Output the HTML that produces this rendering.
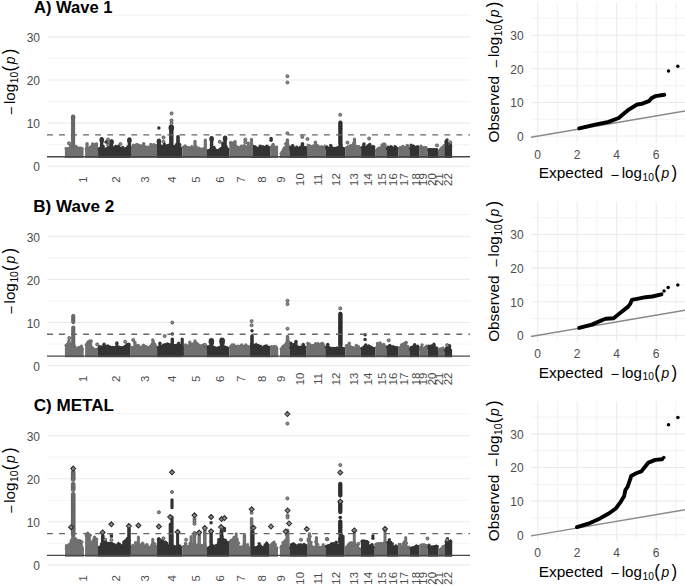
<!DOCTYPE html><html><head><meta charset="utf-8"><style>html,body{margin:0;padding:0;background:#fff;overflow:hidden}svg{display:block}text{font-family:"Liberation Sans",sans-serif}</style></head><body>
<svg width="685" height="586" viewBox="0 0 685 586">
<rect width="685" height="586" fill="#fff"/>

<line x1="47.3" x2="470.0" y1="166.2" y2="166.2" stroke="#ebebeb" stroke-width="1.1"/>
<line x1="47.3" x2="470.0" y1="144.7" y2="144.7" stroke="#ebebeb" stroke-width="0.6"/>
<line x1="47.3" x2="470.0" y1="123.1" y2="123.1" stroke="#ebebeb" stroke-width="1.1"/>
<line x1="47.3" x2="470.0" y1="101.6" y2="101.6" stroke="#ebebeb" stroke-width="0.6"/>
<line x1="47.3" x2="470.0" y1="80" y2="80" stroke="#ebebeb" stroke-width="1.1"/>
<line x1="47.3" x2="470.0" y1="58.4" y2="58.4" stroke="#ebebeb" stroke-width="0.6"/>
<line x1="47.3" x2="470.0" y1="36.9" y2="36.9" stroke="#ebebeb" stroke-width="1.1"/>
<line x1="47.3" x2="470.0" y1="15.1" y2="15.1" stroke="#ebebeb" stroke-width="0.6"/>
<line x1="537.7" x2="537.7" y1="2.5" y2="142.2" stroke="#ebebeb" stroke-width="1.1"/>
<line x1="557.45" x2="557.45" y1="2.5" y2="142.2" stroke="#ebebeb" stroke-width="0.6"/>
<line x1="577.2" x2="577.2" y1="2.5" y2="142.2" stroke="#ebebeb" stroke-width="1.1"/>
<line x1="596.95" x2="596.95" y1="2.5" y2="142.2" stroke="#ebebeb" stroke-width="0.6"/>
<line x1="616.7" x2="616.7" y1="2.5" y2="142.2" stroke="#ebebeb" stroke-width="1.1"/>
<line x1="636.45" x2="636.45" y1="2.5" y2="142.2" stroke="#ebebeb" stroke-width="0.6"/>
<line x1="656.2" x2="656.2" y1="2.5" y2="142.2" stroke="#ebebeb" stroke-width="1.1"/>
<line x1="675.95" x2="675.95" y1="2.5" y2="142.2" stroke="#ebebeb" stroke-width="0.6"/>
<line x1="531.0" x2="685.0" y1="136.05" y2="136.05" stroke="#ebebeb" stroke-width="1.1"/>
<line x1="531.0" x2="685.0" y1="119.24" y2="119.24" stroke="#ebebeb" stroke-width="0.6"/>
<line x1="531.0" x2="685.0" y1="102.43" y2="102.43" stroke="#ebebeb" stroke-width="1.1"/>
<line x1="531.0" x2="685.0" y1="85.62" y2="85.62" stroke="#ebebeb" stroke-width="0.6"/>
<line x1="531.0" x2="685.0" y1="68.81" y2="68.81" stroke="#ebebeb" stroke-width="1.1"/>
<line x1="531.0" x2="685.0" y1="52" y2="52" stroke="#ebebeb" stroke-width="0.6"/>
<line x1="531.0" x2="685.0" y1="35.19" y2="35.19" stroke="#ebebeb" stroke-width="1.1"/>
<line x1="531.0" x2="685.0" y1="18.38" y2="18.38" stroke="#ebebeb" stroke-width="0.6"/>
<path d="M64.9,158 L64.9,148.6 L66,147.1 L68,147.6 L70,146.6 L72,147.1 L75,146.1 L77,147.1 L79,146.6 L81,147.1 L83.6,147.6 L83.6,158 Z" fill="#707070"/>
<g fill="#707070"><circle cx="66.1" cy="148.58" r="1.65"/><circle cx="67.55" cy="149.41" r="1.65"/><circle cx="68.92" cy="148.65" r="1.65"/><circle cx="70.39" cy="147.88" r="1.65"/><circle cx="71.8" cy="148.68" r="1.65"/><circle cx="73.43" cy="147.72" r="1.65"/><circle cx="74.68" cy="147.3" r="1.65"/><circle cx="76.32" cy="148.46" r="1.65"/><circle cx="77.36" cy="148.99" r="1.65"/><circle cx="79.13" cy="148.29" r="1.65"/><circle cx="80.62" cy="148.16" r="1.65"/><circle cx="81.63" cy="148.75" r="1.65"/><circle cx="70.46" cy="145.87" r="1.65"/><circle cx="73.25" cy="146.66" r="1.65"/><circle cx="76" cy="146.52" r="1.65"/></g>
<path d="M85.1,158 L85.1,147.6 L87,146.6 L89,147.1 L91,145.6 L93,144.1 L95,143.1 L96.5,142.6 L98.1,144.6 L98.1,158 Z" fill="#707070"/>
<g fill="#707070"><circle cx="86.3" cy="148.96" r="1.65"/><circle cx="87.97" cy="148.55" r="1.65"/><circle cx="89.22" cy="148.16" r="1.65"/><circle cx="90.46" cy="147.08" r="1.65"/><circle cx="92.07" cy="146.2" r="1.65"/><circle cx="93.75" cy="145.11" r="1.65"/><circle cx="95.51" cy="144.78" r="1.65"/><circle cx="96.51" cy="143.83" r="1.65"/><circle cx="87.04" cy="143.68" r="1.65"/><circle cx="92.61" cy="143.89" r="1.65"/><rect x="85.54" y="143.68" width="3" height="4.43"/></g>
<path d="M98.1,158 L98.1,147.6 L100,147.1 L102,146.6 L105,148.1 L108,147.1 L112,146.6 L116,148.1 L120,148.6 L124,148.1 L127,147.1 L130.6,147.6 L130.6,158 Z" fill="#333333"/>
<g fill="#333333"><circle cx="99.3" cy="149.25" r="1.65"/><circle cx="100.91" cy="147.99" r="1.65"/><circle cx="102.1" cy="147.75" r="1.65"/><circle cx="103.15" cy="148.97" r="1.65"/><circle cx="104.29" cy="149.31" r="1.65"/><circle cx="105.65" cy="149.07" r="1.65"/><circle cx="107.24" cy="148.49" r="1.65"/><circle cx="108.75" cy="148.12" r="1.65"/><circle cx="110.09" cy="148.05" r="1.65"/><circle cx="111.3" cy="148.66" r="1.65"/><circle cx="112.95" cy="148.26" r="1.65"/><circle cx="114.66" cy="148.81" r="1.65"/><circle cx="115.97" cy="149.94" r="1.65"/><circle cx="117.48" cy="149.39" r="1.65"/><circle cx="119.28" cy="149.72" r="1.65"/><circle cx="120.48" cy="150.31" r="1.65"/><circle cx="121.75" cy="149.68" r="1.65"/><circle cx="122.8" cy="149.34" r="1.65"/><circle cx="124.27" cy="149.25" r="1.65"/><circle cx="125.75" cy="148.89" r="1.65"/><circle cx="127.11" cy="149.07" r="1.65"/><circle cx="128.5" cy="148.88" r="1.65"/><circle cx="103.24" cy="146.52" r="1.65"/><circle cx="108.71" cy="145.19" r="1.65"/><circle cx="110.7" cy="144.76" r="1.65"/><circle cx="114.41" cy="147.58" r="1.65"/><circle cx="118.56" cy="146.13" r="1.65"/><circle cx="120.65" cy="148.3" r="1.65"/><circle cx="122.79" cy="147.51" r="1.65"/><circle cx="127.72" cy="146.93" r="1.65"/><rect x="107.21" y="145.19" width="3" height="3.32"/><rect x="109.2" y="144.76" width="3" height="3.5"/><rect x="117.06" y="146.13" width="3" height="3.79"/></g>
<path d="M130.6,158 L130.6,146.6 L133,145.6 L135,144.6 L137,145.1 L139,144.1 L141,145.1 L143,144.6 L145,145.6 L147,146.1 L150,145.6 L152,145.1 L154,144.6 L156,143.6 L157.1,144.6 L157.1,158 Z" fill="#707070"/>
<g fill="#707070"><circle cx="131.8" cy="147.33" r="1.65"/><circle cx="133.25" cy="147.33" r="1.65"/><circle cx="134.74" cy="146.01" r="1.65"/><circle cx="136.47" cy="146.17" r="1.65"/><circle cx="137.49" cy="146.13" r="1.65"/><circle cx="138.84" cy="145.24" r="1.65"/><circle cx="139.98" cy="145.96" r="1.65"/><circle cx="141.44" cy="146.12" r="1.65"/><circle cx="142.73" cy="146.56" r="1.65"/><circle cx="144.52" cy="147.01" r="1.65"/><circle cx="146.07" cy="147.45" r="1.65"/><circle cx="147.18" cy="147.1" r="1.65"/><circle cx="148.2" cy="147.81" r="1.65"/><circle cx="149.76" cy="147.6" r="1.65"/><circle cx="150.77" cy="147.04" r="1.65"/><circle cx="152.16" cy="146.79" r="1.65"/><circle cx="153.41" cy="146.75" r="1.65"/><circle cx="154.47" cy="145.91" r="1.65"/><circle cx="133.4" cy="145.06" r="1.65"/><circle cx="136.66" cy="144.44" r="1.65"/><circle cx="143.66" cy="143.62" r="1.65"/><circle cx="150.81" cy="144.41" r="1.65"/><circle cx="153.75" cy="144.68" r="1.65"/><rect x="142.16" y="143.62" width="3" height="2.81"/></g>
<path d="M157.1,158 L157.1,144.6 L160,144.1 L163,145.6 L166,145.1 L169,144.1 L172,144.6 L175,145.6 L178,145.6 L180,146.6 L182.3,147.1 L182.3,158 Z" fill="#333333"/>
<g fill="#333333"><circle cx="158.3" cy="145.98" r="1.65"/><circle cx="159.79" cy="145.22" r="1.65"/><circle cx="161.3" cy="146.74" r="1.65"/><circle cx="163" cy="147.33" r="1.65"/><circle cx="164.31" cy="147.12" r="1.65"/><circle cx="165.78" cy="146.58" r="1.65"/><circle cx="167.45" cy="145.7" r="1.65"/><circle cx="169.05" cy="145.14" r="1.65"/><circle cx="170.53" cy="145.84" r="1.65"/><circle cx="171.71" cy="146.25" r="1.65"/><circle cx="173.11" cy="146.59" r="1.65"/><circle cx="174.85" cy="146.81" r="1.65"/><circle cx="175.86" cy="146.9" r="1.65"/><circle cx="177.4" cy="146.8" r="1.65"/><circle cx="178.54" cy="147.77" r="1.65"/><circle cx="180.06" cy="148.06" r="1.65"/><circle cx="158.75" cy="144.22" r="1.65"/><circle cx="164.27" cy="143.93" r="1.65"/><circle cx="176.36" cy="144.71" r="1.65"/><circle cx="179.63" cy="144.42" r="1.65"/><rect x="162.77" y="143.93" width="3" height="2.96"/><rect x="178.13" y="144.42" width="3" height="3.5"/></g>
<path d="M182.3,158 L182.3,147.1 L183.4,146.1 L186,146.1 L188,146.1 L190.4,146.6 L193,147.1 L196,147.1 L199,148.1 L202,148.1 L204,147.1 L206.8,148.6 L206.8,158 Z" fill="#707070"/>
<g fill="#707070"><circle cx="183.5" cy="147.27" r="1.65"/><circle cx="184.86" cy="147.38" r="1.65"/><circle cx="186.03" cy="147.51" r="1.65"/><circle cx="187.53" cy="147.59" r="1.65"/><circle cx="188.78" cy="148.1" r="1.65"/><circle cx="190.57" cy="148.09" r="1.65"/><circle cx="191.63" cy="147.87" r="1.65"/><circle cx="193.33" cy="148.14" r="1.65"/><circle cx="194.9" cy="148.67" r="1.65"/><circle cx="196.14" cy="148.94" r="1.65"/><circle cx="197.16" cy="148.62" r="1.65"/><circle cx="198.52" cy="148.97" r="1.65"/><circle cx="200.19" cy="149.34" r="1.65"/><circle cx="201.3" cy="149.15" r="1.65"/><circle cx="202.8" cy="149.15" r="1.65"/><circle cx="204.31" cy="148.92" r="1.65"/><circle cx="185.22" cy="145.95" r="1.65"/><circle cx="191.84" cy="146.63" r="1.65"/><circle cx="196.15" cy="146.96" r="1.65"/><circle cx="198.96" cy="148.13" r="1.65"/></g>
<path d="M206.8,158 L206.8,149.6 L209,149.1 L212,147.6 L215,148.1 L218,149.6 L220,147.6 L223,146.6 L226,147.1 L229.3,148.6 L229.3,158 Z" fill="#333333"/>
<g fill="#333333"><circle cx="208" cy="151.23" r="1.65"/><circle cx="209.07" cy="151" r="1.65"/><circle cx="210.65" cy="149.41" r="1.65"/><circle cx="212.01" cy="149.23" r="1.65"/><circle cx="213.74" cy="149.27" r="1.65"/><circle cx="215.19" cy="150.08" r="1.65"/><circle cx="216.83" cy="150.96" r="1.65"/><circle cx="218.2" cy="151.05" r="1.65"/><circle cx="219.37" cy="149.96" r="1.65"/><circle cx="221.02" cy="148.9" r="1.65"/><circle cx="222.59" cy="147.95" r="1.65"/><circle cx="224.31" cy="148.8" r="1.65"/><circle cx="226.1" cy="148.68" r="1.65"/><circle cx="227.73" cy="149.21" r="1.65"/><circle cx="214.09" cy="147.49" r="1.65"/><circle cx="226.17" cy="146.63" r="1.65"/></g>
<path d="M229.3,158 L229.3,143.6 L230.5,141.6 L231.5,141.3 L234,143.1 L236,145.1 L238.3,146.8 L240.5,145.8 L243,146.4 L245.3,145.1 L247,145.8 L248.5,145.1 L250.8,146.1 L250.8,158 Z" fill="#707070"/>
<g fill="#707070"><circle cx="230.5" cy="142.75" r="1.65"/><circle cx="231.91" cy="143.32" r="1.65"/><circle cx="233.59" cy="144.49" r="1.65"/><circle cx="235.34" cy="145.93" r="1.65"/><circle cx="237.1" cy="147" r="1.65"/><circle cx="238.28" cy="148.31" r="1.65"/><circle cx="239.51" cy="147.98" r="1.65"/><circle cx="241.02" cy="147.45" r="1.65"/><circle cx="242.7" cy="147.89" r="1.65"/><circle cx="243.95" cy="147.25" r="1.65"/><circle cx="245.62" cy="147.13" r="1.65"/><circle cx="246.79" cy="147.56" r="1.65"/><circle cx="248.56" cy="146.65" r="1.65"/><circle cx="233.46" cy="142.78" r="1.65"/><circle cx="235.03" cy="141.64" r="1.65"/><circle cx="241.32" cy="146.17" r="1.65"/><circle cx="244.05" cy="145.63" r="1.65"/><circle cx="248.25" cy="143.07" r="1.65"/><rect x="233.53" y="141.64" width="3" height="3.99"/><rect x="246.75" y="143.07" width="3" height="3.64"/></g>
<path d="M250.8,158 L250.8,145.2 L253,145.2 L256,145.4 L257.5,149.1 L259,146.1 L261,146.1 L262.9,145.2 L265,146.4 L268,145.8 L270.1,146.6 L270.1,158 Z" fill="#333333"/>
<g fill="#333333"><circle cx="252" cy="146.47" r="1.65"/><circle cx="253.38" cy="146.35" r="1.65"/><circle cx="254.73" cy="147.13" r="1.65"/><circle cx="256.45" cy="147.98" r="1.65"/><circle cx="257.7" cy="149.89" r="1.65"/><circle cx="259.19" cy="148.03" r="1.65"/><circle cx="260.3" cy="147.88" r="1.65"/><circle cx="261.32" cy="147.14" r="1.65"/><circle cx="262.5" cy="147.08" r="1.65"/><circle cx="263.76" cy="147.04" r="1.65"/><circle cx="265.25" cy="147.45" r="1.65"/><circle cx="266.84" cy="147.16" r="1.65"/><circle cx="268.24" cy="147.14" r="1.65"/><circle cx="260.13" cy="146.1" r="1.65"/><circle cx="266.86" cy="146.08" r="1.65"/></g>
<path d="M270.1,158 L270.1,146.1 L272.5,145.4 L274.5,146.1 L276.5,145.4 L278.1,146.1 L278.1,158 Z" fill="#707070"/>
<g fill="#707070"><circle cx="271.3" cy="146.98" r="1.65"/><circle cx="272.89" cy="147.35" r="1.65"/><circle cx="274.61" cy="147.38" r="1.65"/><circle cx="275.87" cy="147.54" r="1.65"/><circle cx="273.1" cy="144.42" r="1.65"/><rect x="271.6" y="144.42" width="3" height="2.69"/></g>
<path d="M279.9,158 L279.9,155.6 L281,152.5 L283,148.3 L285,145.9 L286.5,141.7 L287.5,140.6 L289,143.5 L289.4,144.6 L289.4,158 Z" fill="#707070"/>
<g fill="#707070"><circle cx="281.1" cy="153.55" r="1.65"/><circle cx="282.18" cy="151.86" r="1.65"/><circle cx="283.51" cy="149.47" r="1.65"/><circle cx="284.62" cy="147.76" r="1.65"/><circle cx="286.16" cy="143.66" r="1.65"/><circle cx="287.32" cy="142.48" r="1.65"/><circle cx="285.6" cy="143.8" r="1.65"/></g>
<path d="M289.4,158 L289.4,147.6 L291,147.1 L292.6,144.7 L294,147.1 L297,147.6 L300,146.6 L302,144.6 L304,146.1 L307,146.6 L307,158 Z" fill="#333333"/>
<g fill="#333333"><circle cx="290.6" cy="148.91" r="1.65"/><circle cx="291.75" cy="147.04" r="1.65"/><circle cx="292.84" cy="146.14" r="1.65"/><circle cx="294.28" cy="148.66" r="1.65"/><circle cx="295.73" cy="148.54" r="1.65"/><circle cx="296.88" cy="148.78" r="1.65"/><circle cx="298.55" cy="149.07" r="1.65"/><circle cx="300.29" cy="147.4" r="1.65"/><circle cx="301.34" cy="147.21" r="1.65"/><circle cx="302.71" cy="146.9" r="1.65"/><circle cx="303.97" cy="147.55" r="1.65"/><circle cx="305.39" cy="147.76" r="1.65"/><circle cx="290.43" cy="147.07" r="1.65"/><circle cx="296.67" cy="147.2" r="1.65"/><circle cx="302.64" cy="143.84" r="1.65"/><rect x="301.14" y="143.84" width="3" height="2.74"/></g>
<path d="M307,158 L307,143.6 L309,144.1 L311,145.1 L313,146.1 L315,144.6 L316.6,142.8 L318,144.6 L320,146.1 L322,146.6 L324,145.6 L325,143.6 L325.6,145.6 L325.6,158 Z" fill="#707070"/>
<g fill="#707070"><circle cx="308.2" cy="145.6" r="1.65"/><circle cx="309.89" cy="146.17" r="1.65"/><circle cx="311.21" cy="146.81" r="1.65"/><circle cx="312.62" cy="147.89" r="1.65"/><circle cx="314.26" cy="146.41" r="1.65"/><circle cx="315.99" cy="145.23" r="1.65"/><circle cx="317.61" cy="145.91" r="1.65"/><circle cx="318.94" cy="147.2" r="1.65"/><circle cx="320.64" cy="147.95" r="1.65"/><circle cx="322.25" cy="148.24" r="1.65"/><circle cx="323.58" cy="147.53" r="1.65"/><circle cx="313.31" cy="145.89" r="1.65"/><circle cx="315.39" cy="142.27" r="1.65"/><circle cx="321.7" cy="146.68" r="1.65"/><rect x="313.89" y="142.27" width="3" height="3.39"/></g>
<path d="M325.6,158 L325.6,146.6 L328,147.1 L330.7,146.1 L333,147.1 L336,147.1 L338,146.6 L340,147.1 L342,146.6 L345.2,147.6 L345.2,158 Z" fill="#333333"/>
<g fill="#333333"><circle cx="326.8" cy="148.24" r="1.65"/><circle cx="328.6" cy="148.52" r="1.65"/><circle cx="330.16" cy="148.06" r="1.65"/><circle cx="331.94" cy="147.66" r="1.65"/><circle cx="333.44" cy="148.84" r="1.65"/><circle cx="334.64" cy="148.5" r="1.65"/><circle cx="335.68" cy="148.3" r="1.65"/><circle cx="336.98" cy="147.95" r="1.65"/><circle cx="338.18" cy="148.55" r="1.65"/><circle cx="339.62" cy="148.51" r="1.65"/><circle cx="341.4" cy="148.32" r="1.65"/><circle cx="343.19" cy="148.61" r="1.65"/><circle cx="326.75" cy="146.93" r="1.65"/><circle cx="339.39" cy="147" r="1.65"/><circle cx="341.04" cy="144.93" r="1.65"/><rect x="339.54" y="144.93" width="3" height="3.41"/></g>
<path d="M345.2,158 L345.2,147.6 L347,146.1 L349,145.1 L351,144.6 L353,144.6 L355,144.6 L357,145.1 L359,145.6 L361.1,147.1 L361.1,158 Z" fill="#707070"/>
<g fill="#707070"><circle cx="346.4" cy="147.97" r="1.65"/><circle cx="347.63" cy="147.44" r="1.65"/><circle cx="349.08" cy="146.36" r="1.65"/><circle cx="350.65" cy="145.98" r="1.65"/><circle cx="351.66" cy="145.85" r="1.65"/><circle cx="352.7" cy="145.76" r="1.65"/><circle cx="354.3" cy="145.99" r="1.65"/><circle cx="356.02" cy="146.6" r="1.65"/><circle cx="357.06" cy="147.1" r="1.65"/><circle cx="358.81" cy="146.63" r="1.65"/><circle cx="353.8" cy="142.83" r="1.65"/><rect x="352.3" y="142.83" width="3" height="3.27"/></g>
<path d="M361.1,158 L361.1,146.9 L362.5,145.6 L363.6,143.4 L365,146.1 L367,146.1 L368.9,143.4 L370.5,146.1 L373.3,145.1 L375.2,146.6 L375.2,158 Z" fill="#333333"/>
<g fill="#333333"><circle cx="362.3" cy="147.6" r="1.65"/><circle cx="363.78" cy="144.87" r="1.65"/><circle cx="365.28" cy="147.56" r="1.65"/><circle cx="366.45" cy="147.15" r="1.65"/><circle cx="367.87" cy="145.99" r="1.65"/><circle cx="369.22" cy="145.61" r="1.65"/><circle cx="370.59" cy="147.33" r="1.65"/><circle cx="372.05" cy="146.97" r="1.65"/><circle cx="373.67" cy="146.93" r="1.65"/><circle cx="364.01" cy="143.86" r="1.65"/><circle cx="369.83" cy="144.44" r="1.65"/></g>
<path d="M375.2,158 L375.2,150.6 L377,148.1 L378.5,146.6 L380,147.1 L382,145.1 L383.8,142.6 L385,144.6 L386.4,146.6 L386.4,158 Z" fill="#707070"/>
<g fill="#707070"><circle cx="376.4" cy="150.62" r="1.65"/><circle cx="377.85" cy="148.84" r="1.65"/><circle cx="379.36" cy="148.64" r="1.65"/><circle cx="380.51" cy="147.84" r="1.65"/><circle cx="382.29" cy="146.61" r="1.65"/><circle cx="384" cy="143.97" r="1.65"/><circle cx="385.05" cy="145.94" r="1.65"/><circle cx="382.02" cy="144.95" r="1.65"/><circle cx="384.89" cy="144.43" r="1.65"/></g>
<path d="M386.4,158 L386.4,147.7 L388.5,147.1 L390.8,145.1 L392.5,147.1 L394,147.6 L396,146.4 L398.3,147.6 L398.3,158 Z" fill="#333333"/>
<g fill="#333333"><circle cx="387.6" cy="148.84" r="1.65"/><circle cx="388.77" cy="148.21" r="1.65"/><circle cx="390.36" cy="147.32" r="1.65"/><circle cx="391.42" cy="146.95" r="1.65"/><circle cx="393.07" cy="148.91" r="1.65"/><circle cx="394.69" cy="148.4" r="1.65"/><circle cx="396.03" cy="147.67" r="1.65"/><circle cx="388.14" cy="147.14" r="1.65"/><circle cx="394.98" cy="146.64" r="1.65"/></g>
<path d="M398.3,158 L398.3,146.9 L401,146.6 L403,146.6 L405,146.1 L406.5,145.1 L408,146.1 L409.4,146.9 L409.4,158 Z" fill="#707070"/>
<g fill="#707070"><circle cx="399.5" cy="148.19" r="1.65"/><circle cx="400.8" cy="147.72" r="1.65"/><circle cx="402.5" cy="147.68" r="1.65"/><circle cx="403.56" cy="148.02" r="1.65"/><circle cx="404.95" cy="147.8" r="1.65"/><circle cx="406.19" cy="147.08" r="1.65"/><circle cx="407.25" cy="146.81" r="1.65"/><circle cx="402.78" cy="146.42" r="1.65"/><circle cx="407.38" cy="145.39" r="1.65"/></g>
<path d="M409.4,158 L409.4,148.1 L411,147.1 L413.6,144.2 L415.5,146.6 L418,145.1 L419.6,147.1 L419.6,158 Z" fill="#333333"/>
<g fill="#333333"><circle cx="410.6" cy="148.47" r="1.65"/><circle cx="412.17" cy="147.37" r="1.65"/><circle cx="413.9" cy="146.52" r="1.65"/><circle cx="415.63" cy="147.96" r="1.65"/><circle cx="417.28" cy="146.84" r="1.65"/><circle cx="411.2" cy="145.15" r="1.65"/><rect x="409.7" y="145.15" width="3" height="3.23"/></g>
<path d="M419.6,158 L419.6,146.6 L422,146.6 L425,146.1 L427.6,146.6 L427.6,158 Z" fill="#707070"/>
<g fill="#707070"><circle cx="420.8" cy="148" r="1.65"/><circle cx="422.11" cy="147.78" r="1.65"/><circle cx="423.56" cy="148.14" r="1.65"/><circle cx="424.99" cy="147.94" r="1.65"/><circle cx="420.95" cy="146.18" r="1.65"/></g>
<path d="M427.6,158 L427.6,148.6 L430,148.1 L433,148.6 L436,148.6 L438,148.6 L438,158 Z" fill="#333333"/>
<g fill="#333333"><circle cx="428.8" cy="149.87" r="1.65"/><circle cx="430.24" cy="149.71" r="1.65"/><circle cx="432.01" cy="150.09" r="1.65"/><circle cx="433.65" cy="149.66" r="1.65"/><circle cx="435.09" cy="150.39" r="1.65"/><circle cx="436.16" cy="149.68" r="1.65"/></g>
<path d="M438,158 L438,150.6 L440,148.6 L442,146.1 L443.5,144.1 L444.8,143.6 L444.8,158 Z" fill="#707070"/>
<g fill="#707070"><circle cx="439.2" cy="151.05" r="1.65"/><circle cx="440.4" cy="149.32" r="1.65"/><circle cx="442.01" cy="147.61" r="1.65"/></g>
<path d="M444.8,158 L444.8,146.6 L445.5,141.1 L446.3,139.9 L447.3,141.1 L448,146.6 L449,144.6 L451.5,144.6 L452.1,146.6 L452.1,158 Z" fill="#333333"/>
<g fill="#333333"><circle cx="446" cy="142.02" r="1.65"/><circle cx="447.39" cy="143.38" r="1.65"/><circle cx="448.97" cy="146.36" r="1.65"/><circle cx="450.7" cy="146.01" r="1.65"/><circle cx="447.13" cy="139.98" r="1.65"/></g>
<rect x="71.5" y="114.9" width="3.2" height="42.3" rx="1.6" fill="#707070"/>
<ellipse cx="73.1" cy="117.3" rx="2.2" ry="2.8" fill="#707070"/>
<ellipse cx="73.1" cy="135.5" rx="2.2" ry="2.8" fill="#707070"/>
<rect x="100" y="137.7" width="3.4" height="19.5" rx="1.7" fill="#333333"/>
<ellipse cx="101.7" cy="140" rx="2.3" ry="2.9" fill="#333333"/>
<rect x="110" y="139.5" width="3.2" height="17.7" rx="1.6" fill="#333333"/>
<ellipse cx="111.6" cy="142" rx="2.2" ry="2.8" fill="#333333"/>
<rect x="114" y="144.7" width="3.4" height="12.5" rx="1.7" fill="#333333"/>
<rect x="127.7" y="137.9" width="3.4" height="19.3" rx="1.7" fill="#333333"/>
<ellipse cx="129.4" cy="140.2" rx="2.3" ry="2.9" fill="#333333"/>
<rect x="157.2" y="139.7" width="3.4" height="17.5" rx="1.7" fill="#333333"/>
<ellipse cx="158.9" cy="141.5" rx="2.3" ry="2.9" fill="#333333"/>
<rect x="169.1" y="125.2" width="4.4" height="32" rx="2.2" fill="#333333"/>
<ellipse cx="171.3" cy="127.8" rx="2.8" ry="3.4" fill="#333333"/>
<rect x="176.2" y="135" width="3.6" height="22.2" rx="1.8" fill="#333333"/>
<rect x="193.4" y="139.7" width="3.2" height="17.5" rx="1.6" fill="#707070"/>
<rect x="203.7" y="138.5" width="3.2" height="18.7" rx="1.6" fill="#707070"/>
<rect x="209.9" y="136.8" width="3.4" height="20.4" rx="1.7" fill="#333333"/>
<ellipse cx="211.6" cy="139" rx="2.3" ry="2.9" fill="#333333"/>
<rect x="221.3" y="141.5" width="3.4" height="15.7" rx="1.7" fill="#333333"/>
<rect x="223.4" y="136.2" width="3.4" height="21" rx="1.7" fill="#333333"/>
<ellipse cx="225.1" cy="138.5" rx="2.3" ry="2.9" fill="#333333"/>
<rect x="249.9" y="137.8" width="3.2" height="19.4" rx="1.6" fill="#707070"/>
<rect x="285.7" y="138.2" width="3.4" height="19" rx="1.7" fill="#707070"/>
<rect x="300.7" y="142.2" width="3.2" height="15" rx="1.6" fill="#333333"/>
<rect x="291" y="143.9" width="3.2" height="13.3" rx="1.6" fill="#333333"/>
<rect x="338.6" y="120.9" width="3.6" height="36.3" rx="1.8" fill="#333333"/>
<rect x="444.7" y="139.3" width="3.2" height="17.9" rx="1.6" fill="#333333"/>
<rect x="448.7" y="142.2" width="3.2" height="15" rx="1.6" fill="#333333"/>
<rect x="352.9" y="137.5" width="3.2" height="19.7" rx="1.6" fill="#707070"/>
<g fill="#707070" stroke="#555" stroke-width="0.45"><circle cx="73.1" cy="117" r="1.8"/><circle cx="73.1" cy="118.9" r="1.8"/><circle cx="73.1" cy="120.8" r="1.8"/><circle cx="73.1" cy="122.7" r="1.8"/><circle cx="73.1" cy="124.6" r="1.8"/><circle cx="73.1" cy="126.5" r="1.8"/><circle cx="73.1" cy="128.4" r="1.8"/><circle cx="73.1" cy="130.3" r="1.8"/><circle cx="73.1" cy="132.2" r="1.8"/><circle cx="73.1" cy="134.1" r="1.8"/><circle cx="73.1" cy="136" r="1.8"/><circle cx="73.1" cy="137.9" r="1.8"/><circle cx="73.1" cy="139.8" r="1.8"/><circle cx="73.1" cy="141.7" r="1.8"/><circle cx="73.1" cy="143.6" r="1.8"/><circle cx="73.1" cy="145.5" r="1.8"/></g>
<g fill="#333333" stroke="#222" stroke-width="0.45"><circle cx="340.4" cy="122.5" r="1.85"/><circle cx="340.4" cy="124.4" r="1.85"/><circle cx="340.4" cy="126.3" r="1.85"/><circle cx="340.4" cy="128.2" r="1.85"/><circle cx="340.4" cy="130.1" r="1.85"/><circle cx="340.4" cy="132" r="1.85"/><circle cx="340.4" cy="133.9" r="1.85"/><circle cx="340.4" cy="135.8" r="1.85"/><circle cx="340.4" cy="137.7" r="1.85"/><circle cx="340.4" cy="139.6" r="1.85"/><circle cx="340.4" cy="141.5" r="1.85"/><circle cx="340.4" cy="143.4" r="1.85"/></g>
<circle cx="69" cy="143.3" r="1.55" fill="#8c8c8c" stroke="#444" stroke-width="0.7"/>
<circle cx="108.1" cy="139.5" r="1.55" fill="#8c8c8c" stroke="#444" stroke-width="0.7"/>
<circle cx="108.1" cy="142.3" r="1.55" fill="#8c8c8c" stroke="#444" stroke-width="0.7"/>
<circle cx="108.1" cy="145" r="1.55" fill="#8c8c8c" stroke="#444" stroke-width="0.7"/>
<circle cx="106" cy="142" r="1.7" fill="#333333"/>
<circle cx="120.4" cy="144" r="1.55" fill="#8c8c8c" stroke="#444" stroke-width="0.7"/>
<circle cx="158.9" cy="128" r="1.7" fill="#333333"/>
<circle cx="163.5" cy="137.4" r="1.55" fill="#8c8c8c" stroke="#444" stroke-width="0.7"/>
<circle cx="163.5" cy="141.5" r="1.55" fill="#8c8c8c" stroke="#444" stroke-width="0.7"/>
<circle cx="171.5" cy="120.3" r="1.55" fill="#8c8c8c" stroke="#444" stroke-width="0.7"/>
<circle cx="171.5" cy="123.1" r="1.55" fill="#8c8c8c" stroke="#444" stroke-width="0.7"/>
<circle cx="171.6" cy="113.4" r="1.55" fill="#8c8c8c" stroke="#444" stroke-width="0.7"/>
<circle cx="287.4" cy="76.2" r="1.55" fill="#8c8c8c" stroke="#444" stroke-width="0.7"/>
<circle cx="287.4" cy="82.5" r="1.55" fill="#8c8c8c" stroke="#444" stroke-width="0.7"/>
<circle cx="287.4" cy="133.3" r="1.55" fill="#8c8c8c" stroke="#444" stroke-width="0.7"/>
<circle cx="302.3" cy="136.9" r="1.55" fill="#8c8c8c" stroke="#444" stroke-width="0.7"/>
<circle cx="219.8" cy="141.8" r="1.55" fill="#8c8c8c" stroke="#444" stroke-width="0.7"/>
<circle cx="245.3" cy="139.5" r="1.55" fill="#8c8c8c" stroke="#444" stroke-width="0.7"/>
<circle cx="245.3" cy="142.3" r="1.55" fill="#8c8c8c" stroke="#444" stroke-width="0.7"/>
<circle cx="271.1" cy="138.4" r="1.7" fill="#333333"/>
<circle cx="271.1" cy="140.2" r="1.7" fill="#333333"/>
<circle cx="307.5" cy="139" r="1.55" fill="#8c8c8c" stroke="#444" stroke-width="0.7"/>
<circle cx="340.2" cy="114.7" r="1.55" fill="#8c8c8c" stroke="#444" stroke-width="0.7"/>
<circle cx="347.5" cy="142.6" r="1.55" fill="#8c8c8c" stroke="#444" stroke-width="0.7"/>
<circle cx="369.1" cy="138.5" r="1.55" fill="#8c8c8c" stroke="#444" stroke-width="0.7"/>
<circle cx="437" cy="145.4" r="1.55" fill="#8c8c8c" stroke="#444" stroke-width="0.7"/>
<circle cx="450.3" cy="142.4" r="1.55" fill="#8c8c8c" stroke="#444" stroke-width="0.7"/>
<circle cx="330.7" cy="145.5" r="1.7" fill="#333333"/>
<circle cx="73.1" cy="135" r="1.7" fill="#707070"/>
<line x1="47" x2="470.0" y1="134.9" y2="134.9" stroke="#666" stroke-width="1.3" stroke-dasharray="5.9 6.14"/>
<line x1="47" x2="470.0" y1="156.75" y2="156.75" stroke="#484848" stroke-width="1.3"/>
<line x1="531.0" y1="137.19" x2="685.0" y2="110.98" stroke="#8a8a8a" stroke-width="1.45"/>
<path d="M579.2,128.4 L595.2,124.7 L608.6,121.8 L618.7,118 L623.7,113.8 L628.8,109.6 L637.1,104.5 L642.2,103.7 L648.9,101.2 L651.4,98.3 L655.6,96.1 L664.3,94.8" fill="none" stroke="#000" stroke-width="3.9" stroke-linecap="round" stroke-linejoin="round"/>
<circle cx="668.5" cy="71" r="1.75" fill="#000"/>
<circle cx="677.8" cy="66.2" r="1.75" fill="#000"/>
<text x="33.99" y="12.6" font-size="16" font-weight="bold" fill="#000" textLength="78.47" lengthAdjust="spacingAndGlyphs">A) Wave 1</text>
<text x="40" y="171.45" font-size="12" text-anchor="end" fill="#4d4d4d">0</text>
<text x="40" y="128.35" font-size="12" text-anchor="end" fill="#4d4d4d">10</text>
<text x="40" y="85.25" font-size="12" text-anchor="end" fill="#4d4d4d">20</text>
<text x="40" y="42.15" font-size="12" text-anchor="end" fill="#4d4d4d">30</text>
<g transform="translate(14.7,114.75) rotate(-90)"><text x="-0.43" y="1.4" font-size="14.2" fill="#000" textLength="8.65" lengthAdjust="spacingAndGlyphs">−</text>
<text x="10.68" y="0" font-size="14.2" fill="#000" textLength="20.2" lengthAdjust="spacingAndGlyphs">log</text>
<text x="31.52" y="2.8" font-size="10" fill="#000" textLength="11.38" lengthAdjust="spacingAndGlyphs">10</text>
<text x="43.15" y="0" font-size="18.6" fill="#000" textLength="5.65" lengthAdjust="spacingAndGlyphs">(</text>
<text x="50.54" y="0" font-size="14" font-style="italic" fill="#000" textLength="7.7" lengthAdjust="spacingAndGlyphs">p</text>
<text x="60.5" y="0" font-size="18.6" fill="#000" textLength="5.65" lengthAdjust="spacingAndGlyphs">)</text></g>
<text transform="translate(83.4,179.6) rotate(-90)" x="0" y="3.9" font-size="11.4" text-anchor="middle" fill="#4d4d4d">1</text>
<text transform="translate(116,179.6) rotate(-90)" x="0" y="3.9" font-size="11.4" text-anchor="middle" fill="#4d4d4d">2</text>
<text transform="translate(145.4,179.6) rotate(-90)" x="0" y="3.9" font-size="11.4" text-anchor="middle" fill="#4d4d4d">3</text>
<text transform="translate(171.8,179.6) rotate(-90)" x="0" y="3.9" font-size="11.4" text-anchor="middle" fill="#4d4d4d">4</text>
<text transform="translate(196,179.6) rotate(-90)" x="0" y="3.9" font-size="11.4" text-anchor="middle" fill="#4d4d4d">5</text>
<text transform="translate(219.7,179.6) rotate(-90)" x="0" y="3.9" font-size="11.4" text-anchor="middle" fill="#4d4d4d">6</text>
<text transform="translate(241.5,179.6) rotate(-90)" x="0" y="3.9" font-size="11.4" text-anchor="middle" fill="#4d4d4d">7</text>
<text transform="translate(262.4,179.6) rotate(-90)" x="0" y="3.9" font-size="11.4" text-anchor="middle" fill="#4d4d4d">8</text>
<text transform="translate(281,179.6) rotate(-90)" x="0" y="3.9" font-size="11.4" text-anchor="middle" fill="#4d4d4d">9</text>
<text transform="translate(299.7,179.6) rotate(-90)" x="0" y="3.9" font-size="11.4" text-anchor="middle" fill="#4d4d4d">10</text>
<text transform="translate(318,179.6) rotate(-90)" x="0" y="3.9" font-size="11.4" text-anchor="middle" fill="#4d4d4d">11</text>
<text transform="translate(336,179.6) rotate(-90)" x="0" y="3.9" font-size="11.4" text-anchor="middle" fill="#4d4d4d">12</text>
<text transform="translate(354,179.6) rotate(-90)" x="0" y="3.9" font-size="11.4" text-anchor="middle" fill="#4d4d4d">13</text>
<text transform="translate(368.4,179.6) rotate(-90)" x="0" y="3.9" font-size="11.4" text-anchor="middle" fill="#4d4d4d">14</text>
<text transform="translate(382.3,179.6) rotate(-90)" x="0" y="3.9" font-size="11.4" text-anchor="middle" fill="#4d4d4d">15</text>
<text transform="translate(392.7,179.6) rotate(-90)" x="0" y="3.9" font-size="11.4" text-anchor="middle" fill="#4d4d4d">16</text>
<text transform="translate(404.4,179.6) rotate(-90)" x="0" y="3.9" font-size="11.4" text-anchor="middle" fill="#4d4d4d">17</text>
<text transform="translate(415.6,179.6) rotate(-90)" x="0" y="3.9" font-size="11.4" text-anchor="middle" fill="#4d4d4d">18</text>
<text transform="translate(423.3,179.6) rotate(-90)" x="0" y="3.9" font-size="11.4" text-anchor="middle" fill="#4d4d4d">19</text>
<text transform="translate(431.7,179.6) rotate(-90)" x="0" y="3.9" font-size="11.4" text-anchor="middle" fill="#4d4d4d">20</text>
<text transform="translate(439.3,179.6) rotate(-90)" x="0" y="3.9" font-size="11.4" text-anchor="middle" fill="#4d4d4d">21</text>
<text transform="translate(448.1,179.6) rotate(-90)" x="0" y="3.9" font-size="11.4" text-anchor="middle" fill="#4d4d4d">22</text>
<text x="523.6" y="140.95" font-size="12" text-anchor="end" fill="#4d4d4d">0</text>
<text x="523.6" y="107.33" font-size="12" text-anchor="end" fill="#4d4d4d">10</text>
<text x="523.6" y="73.71" font-size="12" text-anchor="end" fill="#4d4d4d">20</text>
<text x="523.6" y="40.09" font-size="12" text-anchor="end" fill="#4d4d4d">30</text>
<text x="537.7" y="158.6" font-size="12" text-anchor="middle" fill="#4d4d4d">0</text>
<text x="577.2" y="158.6" font-size="12" text-anchor="middle" fill="#4d4d4d">2</text>
<text x="616.7" y="158.6" font-size="12" text-anchor="middle" fill="#4d4d4d">4</text>
<text x="656.2" y="158.6" font-size="12" text-anchor="middle" fill="#4d4d4d">6</text>
<g transform="translate(499.4,141.75) rotate(-90)"><text x="-0.73" y="0" font-size="14.6" fill="#000" textLength="66.41" lengthAdjust="spacingAndGlyphs">Observed</text><text x="73.57" y="1.4" font-size="14.2" fill="#000" textLength="8.65" lengthAdjust="spacingAndGlyphs">−</text>
<text x="84.68" y="0" font-size="14.2" fill="#000" textLength="20.2" lengthAdjust="spacingAndGlyphs">log</text>
<text x="105.52" y="2.8" font-size="10" fill="#000" textLength="11.38" lengthAdjust="spacingAndGlyphs">10</text>
<text x="117.15" y="0" font-size="18.6" fill="#000" textLength="5.65" lengthAdjust="spacingAndGlyphs">(</text>
<text x="124.54" y="0" font-size="14" font-style="italic" fill="#000" textLength="7.7" lengthAdjust="spacingAndGlyphs">p</text>
<text x="134.5" y="0" font-size="18.6" fill="#000" textLength="5.65" lengthAdjust="spacingAndGlyphs">)</text></g>
<text x="538.73" y="178.3" font-size="14.5" fill="#000" textLength="64.36" lengthAdjust="spacingAndGlyphs">Expected</text>
<text x="610.57" y="179.7" font-size="14.2" fill="#000" textLength="8.65" lengthAdjust="spacingAndGlyphs">−</text>
<text x="621.68" y="178.3" font-size="14.2" fill="#000" textLength="20.2" lengthAdjust="spacingAndGlyphs">log</text>
<text x="642.52" y="181.1" font-size="10" fill="#000" textLength="11.38" lengthAdjust="spacingAndGlyphs">10</text>
<text x="654.15" y="178.3" font-size="18.6" fill="#000" textLength="5.65" lengthAdjust="spacingAndGlyphs">(</text>
<text x="661.54" y="178.3" font-size="14" font-style="italic" fill="#000" textLength="7.7" lengthAdjust="spacingAndGlyphs">p</text>
<text x="671.5" y="178.3" font-size="18.6" fill="#000" textLength="5.65" lengthAdjust="spacingAndGlyphs">)</text>
<line x1="47.3" x2="470.0" y1="365.55" y2="365.55" stroke="#ebebeb" stroke-width="1.1"/>
<line x1="47.3" x2="470.0" y1="344.05" y2="344.05" stroke="#ebebeb" stroke-width="0.6"/>
<line x1="47.3" x2="470.0" y1="322.45" y2="322.45" stroke="#ebebeb" stroke-width="1.1"/>
<line x1="47.3" x2="470.0" y1="300.95" y2="300.95" stroke="#ebebeb" stroke-width="0.6"/>
<line x1="47.3" x2="470.0" y1="279.35" y2="279.35" stroke="#ebebeb" stroke-width="1.1"/>
<line x1="47.3" x2="470.0" y1="257.75" y2="257.75" stroke="#ebebeb" stroke-width="0.6"/>
<line x1="47.3" x2="470.0" y1="236.25" y2="236.25" stroke="#ebebeb" stroke-width="1.1"/>
<line x1="47.3" x2="470.0" y1="214.45" y2="214.45" stroke="#ebebeb" stroke-width="0.6"/>
<line x1="537.7" x2="537.7" y1="201.85" y2="341.55" stroke="#ebebeb" stroke-width="1.1"/>
<line x1="557.45" x2="557.45" y1="201.85" y2="341.55" stroke="#ebebeb" stroke-width="0.6"/>
<line x1="577.2" x2="577.2" y1="201.85" y2="341.55" stroke="#ebebeb" stroke-width="1.1"/>
<line x1="596.95" x2="596.95" y1="201.85" y2="341.55" stroke="#ebebeb" stroke-width="0.6"/>
<line x1="616.7" x2="616.7" y1="201.85" y2="341.55" stroke="#ebebeb" stroke-width="1.1"/>
<line x1="636.45" x2="636.45" y1="201.85" y2="341.55" stroke="#ebebeb" stroke-width="0.6"/>
<line x1="656.2" x2="656.2" y1="201.85" y2="341.55" stroke="#ebebeb" stroke-width="1.1"/>
<line x1="675.95" x2="675.95" y1="201.85" y2="341.55" stroke="#ebebeb" stroke-width="0.6"/>
<line x1="531.0" x2="685.0" y1="335.4" y2="335.4" stroke="#ebebeb" stroke-width="1.1"/>
<line x1="531.0" x2="685.0" y1="318.59" y2="318.59" stroke="#ebebeb" stroke-width="0.6"/>
<line x1="531.0" x2="685.0" y1="301.78" y2="301.78" stroke="#ebebeb" stroke-width="1.1"/>
<line x1="531.0" x2="685.0" y1="284.97" y2="284.97" stroke="#ebebeb" stroke-width="0.6"/>
<line x1="531.0" x2="685.0" y1="268.16" y2="268.16" stroke="#ebebeb" stroke-width="1.1"/>
<line x1="531.0" x2="685.0" y1="251.35" y2="251.35" stroke="#ebebeb" stroke-width="0.6"/>
<line x1="531.0" x2="685.0" y1="234.54" y2="234.54" stroke="#ebebeb" stroke-width="1.1"/>
<line x1="531.0" x2="685.0" y1="217.73" y2="217.73" stroke="#ebebeb" stroke-width="0.6"/>
<path d="M64.9,357.35 L64.9,347.6 L66,343.6 L68,342.1 L70,342.4 L72,343.1 L74,346.1 L76,348.1 L78,346.6 L80,346.1 L82,346.6 L83.7,348.6 L83.7,357.35 Z" fill="#707070"/>
<g fill="#707070"><circle cx="66.1" cy="345.36" r="1.65"/><circle cx="67.81" cy="344.2" r="1.65"/><circle cx="69.32" cy="343.82" r="1.65"/><circle cx="70.89" cy="344.51" r="1.65"/><circle cx="72.23" cy="344.86" r="1.65"/><circle cx="73.35" cy="346.86" r="1.65"/><circle cx="75.14" cy="348.61" r="1.65"/><circle cx="76.27" cy="349.1" r="1.65"/><circle cx="77.61" cy="348.18" r="1.65"/><circle cx="79.39" cy="347.31" r="1.65"/><circle cx="80.63" cy="347.37" r="1.65"/><circle cx="82.15" cy="348.56" r="1.65"/><circle cx="68.98" cy="340.85" r="1.65"/><circle cx="74.63" cy="346.46" r="1.65"/><circle cx="81.51" cy="346.06" r="1.65"/><rect x="67.48" y="340.85" width="3" height="2.9"/></g>
<path d="M85.1,357.35 L85.1,345.6 L87,341.6 L89.8,339.1 L91.5,341.6 L92.5,346.6 L94,348.1 L96,348.1 L97.9,347.6 L97.9,357.35 Z" fill="#707070"/>
<g fill="#707070"><circle cx="86.3" cy="344.62" r="1.65"/><circle cx="87.95" cy="342.23" r="1.65"/><circle cx="89.16" cy="341.56" r="1.65"/><circle cx="90.89" cy="342.05" r="1.65"/><circle cx="92.33" cy="347.71" r="1.65"/><circle cx="93.72" cy="349.04" r="1.65"/><circle cx="94.76" cy="350.05" r="1.65"/><circle cx="96.4" cy="349.38" r="1.65"/><circle cx="91.11" cy="340.95" r="1.65"/></g>
<path d="M97.9,357.35 L97.9,347.6 L100,346.6 L102,345.6 L104,346.6 L106,345.6 L108,346.1 L110,345.6 L113,346.6 L116,346.1 L119,345.6 L122,346.6 L125,345.6 L127,343.6 L128.6,342.4 L130.6,343.6 L130.6,357.35 Z" fill="#333333"/>
<g fill="#333333"><circle cx="99.1" cy="348.74" r="1.65"/><circle cx="100.58" cy="347.46" r="1.65"/><circle cx="101.71" cy="347.07" r="1.65"/><circle cx="102.92" cy="347.93" r="1.65"/><circle cx="104.33" cy="348.07" r="1.65"/><circle cx="106.13" cy="346.9" r="1.65"/><circle cx="107.55" cy="347.14" r="1.65"/><circle cx="109.17" cy="346.81" r="1.65"/><circle cx="110.83" cy="347.72" r="1.65"/><circle cx="112.48" cy="347.51" r="1.65"/><circle cx="113.7" cy="348.2" r="1.65"/><circle cx="114.78" cy="347.78" r="1.65"/><circle cx="116.15" cy="348.03" r="1.65"/><circle cx="117.62" cy="347.69" r="1.65"/><circle cx="118.86" cy="347.41" r="1.65"/><circle cx="120.2" cy="347.92" r="1.65"/><circle cx="121.27" cy="348.18" r="1.65"/><circle cx="122.44" cy="348" r="1.65"/><circle cx="123.86" cy="347.14" r="1.65"/><circle cx="125.52" cy="346.39" r="1.65"/><circle cx="126.77" cy="344.9" r="1.65"/><circle cx="128.02" cy="344.3" r="1.65"/><circle cx="99.62" cy="346.62" r="1.65"/><circle cx="104.04" cy="344.17" r="1.65"/><circle cx="107.61" cy="345.94" r="1.65"/><circle cx="116.85" cy="342.96" r="1.65"/><rect x="102.54" y="344.17" width="3" height="3.91"/><rect x="115.35" y="342.96" width="3" height="4.5"/></g>
<path d="M130.6,357.35 L130.6,345.6 L133,346.6 L136.7,344.2 L139,346.1 L141,346.6 L143.7,343.6 L146,345.6 L148,346.6 L150,345.6 L152,342.6 L153,340.1 L154.5,342.6 L157.1,345.6 L157.1,357.35 Z" fill="#707070"/>
<g fill="#707070"><circle cx="131.8" cy="347.77" r="1.65"/><circle cx="133.01" cy="347.8" r="1.65"/><circle cx="134.59" cy="346.9" r="1.65"/><circle cx="136.35" cy="345.99" r="1.65"/><circle cx="137.93" cy="346.54" r="1.65"/><circle cx="139.59" cy="347.34" r="1.65"/><circle cx="140.7" cy="347.62" r="1.65"/><circle cx="142.24" cy="346.93" r="1.65"/><circle cx="143.39" cy="345.35" r="1.65"/><circle cx="145.06" cy="346.37" r="1.65"/><circle cx="146.13" cy="346.89" r="1.65"/><circle cx="147.25" cy="347.35" r="1.65"/><circle cx="148.58" cy="347.38" r="1.65"/><circle cx="150.31" cy="346.55" r="1.65"/><circle cx="151.72" cy="344.66" r="1.65"/><circle cx="153.34" cy="342.48" r="1.65"/><circle cx="154.65" cy="344.1" r="1.65"/><circle cx="134.88" cy="342.38" r="1.65"/><circle cx="138.35" cy="345.49" r="1.65"/><circle cx="152.75" cy="339.99" r="1.65"/><rect x="133.38" y="342.38" width="3" height="4.5"/></g>
<path d="M157.1,357.35 L157.1,346.6 L160,346.1 L163,345.1 L166,345.6 L169,344.6 L172,343.6 L175,344.6 L178,343.6 L180,344.6 L182.6,343.6 L182.6,357.35 Z" fill="#333333"/>
<g fill="#333333"><circle cx="158.3" cy="347.55" r="1.65"/><circle cx="159.91" cy="348.02" r="1.65"/><circle cx="161.35" cy="347" r="1.65"/><circle cx="162.75" cy="346.32" r="1.65"/><circle cx="164.32" cy="347.31" r="1.65"/><circle cx="165.74" cy="347.27" r="1.65"/><circle cx="167.4" cy="346.33" r="1.65"/><circle cx="169.16" cy="346.17" r="1.65"/><circle cx="170.32" cy="345.24" r="1.65"/><circle cx="171.51" cy="345.34" r="1.65"/><circle cx="173.07" cy="345.29" r="1.65"/><circle cx="174.81" cy="345.9" r="1.65"/><circle cx="176.19" cy="345.33" r="1.65"/><circle cx="177.96" cy="344.75" r="1.65"/><circle cx="179.69" cy="345.99" r="1.65"/><circle cx="181.14" cy="345.72" r="1.65"/><circle cx="159.92" cy="343.11" r="1.65"/><circle cx="163.46" cy="345.26" r="1.65"/><circle cx="165.27" cy="344.74" r="1.65"/><circle cx="167.49" cy="343.83" r="1.65"/><circle cx="169.59" cy="344.55" r="1.65"/><rect x="158.42" y="343.11" width="3" height="4.5"/><rect x="165.99" y="343.83" width="3" height="2.77"/></g>
<path d="M182.6,357.35 L182.6,345.6 L185,346.1 L188,344.6 L189.8,341.2 L191.5,344.6 L193,343.6 L195,339.6 L197,342.6 L199,344.4 L202,344.6 L205,345.6 L207,346.6 L207,357.35 Z" fill="#707070"/>
<g fill="#707070"><circle cx="183.8" cy="347.79" r="1.65"/><circle cx="185.33" cy="347.24" r="1.65"/><circle cx="186.86" cy="346.91" r="1.65"/><circle cx="188.17" cy="345.87" r="1.65"/><circle cx="189.81" cy="342.24" r="1.65"/><circle cx="190.97" cy="345.01" r="1.65"/><circle cx="192.09" cy="345.6" r="1.65"/><circle cx="193.54" cy="343.69" r="1.65"/><circle cx="194.96" cy="340.95" r="1.65"/><circle cx="196.41" cy="343.05" r="1.65"/><circle cx="197.93" cy="344.47" r="1.65"/><circle cx="199.46" cy="345.58" r="1.65"/><circle cx="201.23" cy="346.15" r="1.65"/><circle cx="202.61" cy="346.21" r="1.65"/><circle cx="204.1" cy="346.99" r="1.65"/><circle cx="205.71" cy="347.71" r="1.65"/><circle cx="185.59" cy="344.98" r="1.65"/><circle cx="191.81" cy="344.56" r="1.65"/><circle cx="203.78" cy="344.9" r="1.65"/></g>
<path d="M207,357.35 L207,347.6 L209,347.1 L211,346.1 L213,346.1 L216,347.1 L219,346.6 L221,345.6 L223,345.6 L226,346.1 L229.3,347.1 L229.3,357.35 Z" fill="#333333"/>
<g fill="#333333"><circle cx="208.2" cy="349.03" r="1.65"/><circle cx="209.68" cy="348.51" r="1.65"/><circle cx="210.92" cy="347.73" r="1.65"/><circle cx="211.98" cy="347.22" r="1.65"/><circle cx="213.34" cy="347.71" r="1.65"/><circle cx="214.65" cy="347.7" r="1.65"/><circle cx="216.21" cy="348.59" r="1.65"/><circle cx="217.4" cy="348.17" r="1.65"/><circle cx="218.72" cy="347.88" r="1.65"/><circle cx="219.77" cy="348.13" r="1.65"/><circle cx="221.54" cy="347.27" r="1.65"/><circle cx="223.24" cy="347.06" r="1.65"/><circle cx="224.88" cy="347.14" r="1.65"/><circle cx="226.48" cy="347.81" r="1.65"/><circle cx="208.2" cy="346.73" r="1.65"/><circle cx="222.04" cy="344.91" r="1.65"/></g>
<path d="M229.3,357.35 L229.3,345.6 L232,345.1 L235,345.1 L238,345 L241,345.1 L244,345.1 L247,345.1 L250.3,345.6 L250.3,357.35 Z" fill="#707070"/>
<g fill="#707070"><circle cx="230.5" cy="347.28" r="1.65"/><circle cx="231.75" cy="346.65" r="1.65"/><circle cx="233.49" cy="347.08" r="1.65"/><circle cx="234.87" cy="346.31" r="1.65"/><circle cx="236.11" cy="346.99" r="1.65"/><circle cx="237.83" cy="346.2" r="1.65"/><circle cx="239.5" cy="346.4" r="1.65"/><circle cx="240.87" cy="346.27" r="1.65"/><circle cx="242.58" cy="347.1" r="1.65"/><circle cx="243.74" cy="346.73" r="1.65"/><circle cx="244.89" cy="346.98" r="1.65"/><circle cx="245.93" cy="346.21" r="1.65"/><circle cx="247.51" cy="346.49" r="1.65"/><circle cx="232.04" cy="344.85" r="1.65"/><circle cx="233.88" cy="344.91" r="1.65"/><circle cx="241.69" cy="344.86" r="1.65"/><circle cx="245.77" cy="345.01" r="1.65"/></g>
<path d="M250.3,357.35 L250.3,345.6 L254,344.6 L256.4,342.6 L258,345.6 L261,348.2 L263,346.6 L265.1,344.6 L267,346.6 L270.3,347.6 L270.3,357.35 Z" fill="#333333"/>
<g fill="#333333"><circle cx="251.5" cy="346.65" r="1.65"/><circle cx="253.03" cy="346.75" r="1.65"/><circle cx="254.5" cy="345.41" r="1.65"/><circle cx="255.74" cy="345.07" r="1.65"/><circle cx="257.28" cy="345.52" r="1.65"/><circle cx="258.79" cy="347.37" r="1.65"/><circle cx="260.57" cy="349.27" r="1.65"/><circle cx="262" cy="348.93" r="1.65"/><circle cx="263.03" cy="348.17" r="1.65"/><circle cx="264.26" cy="346.65" r="1.65"/><circle cx="265.9" cy="346.53" r="1.65"/><circle cx="267.13" cy="348.4" r="1.65"/><circle cx="268.33" cy="348.28" r="1.65"/><circle cx="251.67" cy="343.96" r="1.65"/><circle cx="258.3" cy="345.47" r="1.65"/><circle cx="260.76" cy="346.34" r="1.65"/><circle cx="266.4" cy="345.93" r="1.65"/><circle cx="268.8" cy="347.07" r="1.65"/><rect x="250.17" y="343.96" width="3" height="2.77"/><rect x="259.26" y="346.34" width="3" height="3.15"/></g>
<path d="M270.2,357.35 L270.2,347.6 L272,346.1 L274,345.1 L276,345.6 L278.3,348.1 L278.3,357.35 Z" fill="#707070"/>
<g fill="#707070"><circle cx="271.4" cy="348.12" r="1.65"/><circle cx="272.8" cy="347.54" r="1.65"/><circle cx="274.35" cy="346.71" r="1.65"/><circle cx="276.11" cy="346.9" r="1.65"/><circle cx="271.53" cy="346.55" r="1.65"/></g>
<path d="M280,357.35 L280,348.6 L282,346.1 L284,344.6 L286,342.6 L287.5,338.6 L289,340.6 L289.5,344.6 L289.5,357.35 Z" fill="#707070"/>
<g fill="#707070"><circle cx="281.2" cy="348.89" r="1.65"/><circle cx="282.83" cy="346.71" r="1.65"/><circle cx="284.22" cy="345.6" r="1.65"/><circle cx="285.69" cy="344.41" r="1.65"/><circle cx="286.72" cy="342.29" r="1.65"/><circle cx="288.29" cy="341.22" r="1.65"/><circle cx="287.65" cy="338.2" r="1.65"/></g>
<path d="M289.5,357.35 L289.5,346.4 L292,345.1 L294.4,342.9 L297,345.6 L300,346.1 L303,345.6 L306.6,346.1 L306.6,357.35 Z" fill="#333333"/>
<g fill="#333333"><circle cx="290.7" cy="347.68" r="1.65"/><circle cx="292.16" cy="346.5" r="1.65"/><circle cx="293.79" cy="344.7" r="1.65"/><circle cx="294.91" cy="344.74" r="1.65"/><circle cx="295.94" cy="345.81" r="1.65"/><circle cx="297.44" cy="347.2" r="1.65"/><circle cx="298.65" cy="347.46" r="1.65"/><circle cx="299.72" cy="347.87" r="1.65"/><circle cx="300.86" cy="347.21" r="1.65"/><circle cx="301.98" cy="347.46" r="1.65"/><circle cx="303.65" cy="347.48" r="1.65"/><circle cx="304.7" cy="347.25" r="1.65"/><circle cx="290.93" cy="343.13" r="1.65"/><circle cx="295.94" cy="341.5" r="1.65"/><circle cx="303.27" cy="344.43" r="1.65"/><rect x="289.43" y="343.13" width="3" height="4.02"/><rect x="294.44" y="341.5" width="3" height="4.5"/><rect x="301.77" y="344.43" width="3" height="2.71"/></g>
<path d="M306.6,357.35 L306.6,344.6 L307.6,341.6 L309,344.1 L312,344.3 L315,344.6 L318,344.1 L320,343.6 L322.3,341.6 L324,344.1 L325.3,344.6 L325.3,357.35 Z" fill="#707070"/>
<g fill="#707070"><circle cx="307.8" cy="343.35" r="1.65"/><circle cx="309.04" cy="345.53" r="1.65"/><circle cx="310.1" cy="345.21" r="1.65"/><circle cx="311.9" cy="346.06" r="1.65"/><circle cx="313.48" cy="345.68" r="1.65"/><circle cx="314.69" cy="346.12" r="1.65"/><circle cx="315.88" cy="345.91" r="1.65"/><circle cx="317.63" cy="345.53" r="1.65"/><circle cx="318.9" cy="345.86" r="1.65"/><circle cx="320.38" cy="344.31" r="1.65"/><circle cx="321.71" cy="343.77" r="1.65"/><circle cx="322.75" cy="343.61" r="1.65"/><circle cx="309.33" cy="344.23" r="1.65"/><circle cx="315.53" cy="343.66" r="1.65"/><circle cx="317.98" cy="343.58" r="1.65"/></g>
<path d="M325.3,357.35 L325.3,346.6 L328,345.6 L331,347.1 L334,347.3 L337,347.1 L340,346.6 L343,347.1 L345.3,347.6 L345.3,357.35 Z" fill="#333333"/>
<g fill="#333333"><circle cx="326.5" cy="347.36" r="1.65"/><circle cx="327.67" cy="347.19" r="1.65"/><circle cx="328.92" cy="347.51" r="1.65"/><circle cx="330.71" cy="348.64" r="1.65"/><circle cx="332.4" cy="348.4" r="1.65"/><circle cx="333.71" cy="348.35" r="1.65"/><circle cx="335.26" cy="348.58" r="1.65"/><circle cx="336.48" cy="348.15" r="1.65"/><circle cx="337.63" cy="348.26" r="1.65"/><circle cx="338.94" cy="348.7" r="1.65"/><circle cx="340.51" cy="347.95" r="1.65"/><circle cx="341.8" cy="348.05" r="1.65"/><circle cx="343.55" cy="348.58" r="1.65"/><circle cx="327.75" cy="344.32" r="1.65"/><rect x="326.25" y="344.32" width="3" height="2.88"/></g>
<path d="M345.3,357.35 L345.3,346.7 L347,345.1 L349,343.6 L351,345.6 L353,346.6 L355,347.1 L357.8,346.6 L360.9,347.6 L360.9,357.35 Z" fill="#707070"/>
<g fill="#707070"><circle cx="346.5" cy="347.17" r="1.65"/><circle cx="347.53" cy="346.02" r="1.65"/><circle cx="348.86" cy="345.25" r="1.65"/><circle cx="349.97" cy="346.28" r="1.65"/><circle cx="351.18" cy="347.42" r="1.65"/><circle cx="352.71" cy="347.6" r="1.65"/><circle cx="353.88" cy="348.1" r="1.65"/><circle cx="355.45" cy="348.43" r="1.65"/><circle cx="356.76" cy="348.65" r="1.65"/><circle cx="357.94" cy="347.94" r="1.65"/><circle cx="359.21" cy="348.27" r="1.65"/><circle cx="346.35" cy="345.72" r="1.65"/><circle cx="349.26" cy="343.21" r="1.65"/><circle cx="356.38" cy="345.34" r="1.65"/><circle cx="358.42" cy="346.63" r="1.65"/><rect x="354.88" y="345.34" width="3" height="3.01"/></g>
<path d="M360.9,357.35 L360.9,347.3 L363,346.6 L365.1,344.6 L367,346.6 L370.6,345.6 L373,347.1 L375.3,347.6 L375.3,357.35 Z" fill="#333333"/>
<g fill="#333333"><circle cx="362.1" cy="348.86" r="1.65"/><circle cx="363.79" cy="347.08" r="1.65"/><circle cx="365.3" cy="345.9" r="1.65"/><circle cx="366.64" cy="347.62" r="1.65"/><circle cx="367.69" cy="347.79" r="1.65"/><circle cx="368.95" cy="347.55" r="1.65"/><circle cx="370.18" cy="346.88" r="1.65"/><circle cx="371.5" cy="347.64" r="1.65"/><circle cx="372.63" cy="348.54" r="1.65"/><circle cx="373.82" cy="348.37" r="1.65"/><circle cx="365.7" cy="345.02" r="1.65"/><circle cx="368.58" cy="345.96" r="1.65"/></g>
<path d="M375.3,357.35 L375.3,347.6 L377,346.1 L380,342.6 L382,343.6 L384,345.1 L386.4,345.6 L386.4,357.35 Z" fill="#707070"/>
<g fill="#707070"><circle cx="376.5" cy="347.6" r="1.65"/><circle cx="377.9" cy="346.64" r="1.65"/><circle cx="379.27" cy="344.78" r="1.65"/><circle cx="380.47" cy="343.86" r="1.65"/><circle cx="381.75" cy="345.37" r="1.65"/><circle cx="383.2" cy="345.77" r="1.65"/><circle cx="384.74" cy="346.44" r="1.65"/><circle cx="377.53" cy="343.39" r="1.65"/><circle cx="379.94" cy="342.81" r="1.65"/><circle cx="383.79" cy="344.47" r="1.65"/><rect x="376.03" y="343.39" width="3" height="3.59"/></g>
<path d="M386.4,357.35 L386.4,345.6 L389,345.6 L392,345.6 L395,346.1 L398.6,346.6 L398.6,357.35 Z" fill="#333333"/>
<g fill="#333333"><circle cx="387.6" cy="347.22" r="1.65"/><circle cx="388.93" cy="347.02" r="1.65"/><circle cx="390.15" cy="347.43" r="1.65"/><circle cx="391.85" cy="346.98" r="1.65"/><circle cx="393.58" cy="346.9" r="1.65"/><circle cx="394.69" cy="347.56" r="1.65"/><circle cx="395.94" cy="347.59" r="1.65"/><circle cx="389.77" cy="345.46" r="1.65"/></g>
<path d="M398.6,357.35 L398.6,346.8 L401,346.1 L403,344.6 L405.6,340.6 L407,344.6 L409.4,346.1 L409.4,357.35 Z" fill="#707070"/>
<g fill="#707070"><circle cx="399.8" cy="348" r="1.65"/><circle cx="401.3" cy="347.44" r="1.65"/><circle cx="402.96" cy="346.6" r="1.65"/><circle cx="404.23" cy="344.05" r="1.65"/><circle cx="405.94" cy="342.89" r="1.65"/><circle cx="407.51" cy="346.62" r="1.65"/><circle cx="401.53" cy="344.96" r="1.65"/><circle cx="403.43" cy="343.97" r="1.65"/><circle cx="406.15" cy="342.35" r="1.65"/></g>
<path d="M409.4,357.35 L409.4,348.3 L412,347.6 L414.8,343.2 L416.5,346.6 L419.4,348.1 L419.4,357.35 Z" fill="#333333"/>
<g fill="#333333"><circle cx="410.6" cy="349.26" r="1.65"/><circle cx="412.2" cy="348.82" r="1.65"/><circle cx="413.39" cy="346.67" r="1.65"/><circle cx="414.65" cy="344.62" r="1.65"/><circle cx="416.06" cy="346.85" r="1.65"/><circle cx="417.11" cy="347.98" r="1.65"/><circle cx="418.19" cy="349.18" r="1.65"/><circle cx="411.3" cy="347.31" r="1.65"/><circle cx="417.67" cy="346.17" r="1.65"/><rect x="416.17" y="346.17" width="3" height="2.54"/></g>
<path d="M419.4,357.35 L419.4,347.8 L421.5,345 L424,347.6 L427,344.1 L427.6,345.6 L427.6,357.35 Z" fill="#707070"/>
<g fill="#707070"><circle cx="420.6" cy="347.45" r="1.65"/><circle cx="422.01" cy="347.32" r="1.65"/><circle cx="423.32" cy="348.61" r="1.65"/><circle cx="424.52" cy="348.71" r="1.65"/><circle cx="425.78" cy="346.85" r="1.65"/><circle cx="422.09" cy="344.85" r="1.65"/></g>
<path d="M427.6,357.35 L427.6,347.1 L429,346.2 L433,345.8 L436,346.2 L438,347.1 L438,357.35 Z" fill="#333333"/>
<g fill="#333333"><circle cx="428.8" cy="347.95" r="1.65"/><circle cx="430.46" cy="347.85" r="1.65"/><circle cx="431.56" cy="347.32" r="1.65"/><circle cx="433.1" cy="347.04" r="1.65"/><circle cx="434.25" cy="346.98" r="1.65"/><circle cx="435.72" cy="348.1" r="1.65"/><circle cx="428.87" cy="346.12" r="1.65"/><circle cx="431.42" cy="345.96" r="1.65"/><circle cx="433.91" cy="344.21" r="1.65"/><rect x="432.41" y="344.21" width="3" height="3.21"/></g>
<path d="M438,357.35 L438,348.3 L441,348.1 L443.4,346.1 L444.4,347.6 L444.4,357.35 Z" fill="#707070"/>
<g fill="#707070"><circle cx="439.2" cy="349.27" r="1.65"/><circle cx="440.77" cy="349.23" r="1.65"/><circle cx="441.8" cy="348.72" r="1.65"/></g>
<path d="M444.4,357.35 L444.4,349.3 L446,349.1 L447.2,346.1 L449,348.6 L452.1,349.3 L452.1,357.35 Z" fill="#333333"/>
<g fill="#333333"><circle cx="445.6" cy="350.18" r="1.65"/><circle cx="447.03" cy="348" r="1.65"/><circle cx="448.33" cy="348.98" r="1.65"/><circle cx="449.97" cy="350.66" r="1.65"/><circle cx="446.18" cy="348.68" r="1.65"/><circle cx="449.6" cy="345.77" r="1.65"/><rect x="448.1" y="345.77" width="3" height="4.46"/></g>
<rect x="71.6" y="314.3" width="3.4" height="9.9" rx="1.7" fill="#707070"/>
<rect x="71.6" y="326.2" width="3.4" height="30.35" rx="1.7" fill="#707070"/>
<rect x="209.2" y="339.3" width="4.4" height="17.25" rx="2.2" fill="#333333"/>
<ellipse cx="211.4" cy="341.5" rx="2.8" ry="3.4" fill="#333333"/>
<rect x="219.8" y="338.6" width="4.6" height="17.95" rx="2.3" fill="#333333"/>
<ellipse cx="222.1" cy="341" rx="2.9" ry="3.5" fill="#333333"/>
<rect x="170.6" y="337.4" width="3.4" height="19.15" rx="1.7" fill="#333333"/>
<rect x="177.1" y="341.5" width="3.2" height="15.05" rx="1.6" fill="#333333"/>
<rect x="180.6" y="337.4" width="3.2" height="19.15" rx="1.6" fill="#333333"/>
<rect x="250.2" y="334.2" width="3.6" height="22.35" rx="1.8" fill="#333333"/>
<rect x="285.8" y="334.8" width="3.4" height="21.75" rx="1.7" fill="#707070"/>
<rect x="338.5" y="311.8" width="3.8" height="44.75" rx="1.9" fill="#333333"/>
<rect x="151.5" y="339.1" width="3" height="17.45" rx="1.5" fill="#707070"/>
<g fill="#707070" stroke="#555" stroke-width="0.45"><circle cx="73.3" cy="316" r="1.8"/><circle cx="73.3" cy="317.9" r="1.8"/><circle cx="73.3" cy="319.8" r="1.8"/><circle cx="73.3" cy="321.7" r="1.8"/></g>
<g fill="#707070" stroke="#555" stroke-width="0.45"><circle cx="73.3" cy="327.5" r="1.8"/><circle cx="73.3" cy="329.4" r="1.8"/><circle cx="73.3" cy="331.3" r="1.8"/><circle cx="73.3" cy="333.2" r="1.8"/><circle cx="73.3" cy="335.1" r="1.8"/><circle cx="73.3" cy="337" r="1.8"/><circle cx="73.3" cy="338.9" r="1.8"/><circle cx="73.3" cy="340.8" r="1.8"/><circle cx="73.3" cy="342.7" r="1.8"/><circle cx="73.3" cy="344.6" r="1.8"/></g>
<g fill="#333333" stroke="#222" stroke-width="0.45"><circle cx="340.4" cy="314" r="1.9"/><circle cx="340.4" cy="315.9" r="1.9"/><circle cx="340.4" cy="317.8" r="1.9"/><circle cx="340.4" cy="319.7" r="1.9"/><circle cx="340.4" cy="321.6" r="1.9"/><circle cx="340.4" cy="323.5" r="1.9"/><circle cx="340.4" cy="325.4" r="1.9"/><circle cx="340.4" cy="327.3" r="1.9"/><circle cx="340.4" cy="329.2" r="1.9"/><circle cx="340.4" cy="331.1" r="1.9"/><circle cx="340.4" cy="333" r="1.9"/><circle cx="340.4" cy="334.9" r="1.9"/><circle cx="340.4" cy="336.8" r="1.9"/><circle cx="340.4" cy="338.7" r="1.9"/><circle cx="340.4" cy="340.6" r="1.9"/><circle cx="340.4" cy="342.5" r="1.9"/><circle cx="340.4" cy="344.4" r="1.9"/></g>
<circle cx="69.3" cy="338" r="1.55" fill="#8c8c8c" stroke="#444" stroke-width="0.7"/>
<circle cx="97.2" cy="344.4" r="1.55" fill="#8c8c8c" stroke="#444" stroke-width="0.7"/>
<circle cx="125.2" cy="341.8" r="1.55" fill="#8c8c8c" stroke="#444" stroke-width="0.7"/>
<circle cx="133.2" cy="340" r="1.55" fill="#8c8c8c" stroke="#444" stroke-width="0.7"/>
<circle cx="172.3" cy="334" r="1.7" fill="#333333"/>
<circle cx="172.3" cy="322.6" r="1.55" fill="#8c8c8c" stroke="#444" stroke-width="0.7"/>
<circle cx="164.7" cy="336" r="1.55" fill="#8c8c8c" stroke="#444" stroke-width="0.7"/>
<circle cx="205" cy="345" r="1.55" fill="#8c8c8c" stroke="#444" stroke-width="0.7"/>
<circle cx="252" cy="330.7" r="1.7" fill="#333333"/>
<circle cx="251.6" cy="325.2" r="1.55" fill="#8c8c8c" stroke="#444" stroke-width="0.7"/>
<circle cx="251.6" cy="321.1" r="1.55" fill="#8c8c8c" stroke="#444" stroke-width="0.7"/>
<circle cx="287.5" cy="328.7" r="1.55" fill="#8c8c8c" stroke="#444" stroke-width="0.7"/>
<circle cx="287.5" cy="304.1" r="1.55" fill="#8c8c8c" stroke="#444" stroke-width="0.7"/>
<circle cx="287.5" cy="300.7" r="1.55" fill="#8c8c8c" stroke="#444" stroke-width="0.7"/>
<circle cx="340.3" cy="308.4" r="1.55" fill="#8c8c8c" stroke="#444" stroke-width="0.7"/>
<circle cx="365.1" cy="334.8" r="1.7" fill="#333333"/>
<circle cx="365.1" cy="339.5" r="1.7" fill="#333333"/>
<circle cx="388.7" cy="340.3" r="1.55" fill="#8c8c8c" stroke="#444" stroke-width="0.7"/>
<circle cx="447.2" cy="345.1" r="1.55" fill="#8c8c8c" stroke="#444" stroke-width="0.7"/>
<line x1="47" x2="470.0" y1="334.25" y2="334.25" stroke="#666" stroke-width="1.3" stroke-dasharray="5.9 6.14"/>
<line x1="47" x2="470.0" y1="356.1" y2="356.1" stroke="#484848" stroke-width="1.3"/>
<line x1="531.0" y1="336.54" x2="685.0" y2="310.33" stroke="#8a8a8a" stroke-width="1.45"/>
<path d="M579.2,327.9 L591.8,324.6 L603.6,319.5 L606.1,318.7 L613.6,318.2 L620.4,312.8 L627.9,306.9 L630.4,303.6 L631.8,299.9 L637.1,298.9 L645.5,297.2 L652.3,296.5 L661.5,294.3" fill="none" stroke="#000" stroke-width="3.9" stroke-linecap="round" stroke-linejoin="round"/>
<circle cx="664" cy="291" r="1.75" fill="#000"/>
<circle cx="668.2" cy="287.6" r="1.75" fill="#000"/>
<circle cx="677.8" cy="285.1" r="1.75" fill="#000"/>
<text x="33.27" y="211.95" font-size="16" font-weight="bold" fill="#000" textLength="80.91" lengthAdjust="spacingAndGlyphs">B) Wave 2</text>
<text x="40" y="370.8" font-size="12" text-anchor="end" fill="#4d4d4d">0</text>
<text x="40" y="327.7" font-size="12" text-anchor="end" fill="#4d4d4d">10</text>
<text x="40" y="284.6" font-size="12" text-anchor="end" fill="#4d4d4d">20</text>
<text x="40" y="241.5" font-size="12" text-anchor="end" fill="#4d4d4d">30</text>
<g transform="translate(14.7,314.1) rotate(-90)"><text x="-0.43" y="1.4" font-size="14.2" fill="#000" textLength="8.65" lengthAdjust="spacingAndGlyphs">−</text>
<text x="10.68" y="0" font-size="14.2" fill="#000" textLength="20.2" lengthAdjust="spacingAndGlyphs">log</text>
<text x="31.52" y="2.8" font-size="10" fill="#000" textLength="11.38" lengthAdjust="spacingAndGlyphs">10</text>
<text x="43.15" y="0" font-size="18.6" fill="#000" textLength="5.65" lengthAdjust="spacingAndGlyphs">(</text>
<text x="50.54" y="0" font-size="14" font-style="italic" fill="#000" textLength="7.7" lengthAdjust="spacingAndGlyphs">p</text>
<text x="60.5" y="0" font-size="18.6" fill="#000" textLength="5.65" lengthAdjust="spacingAndGlyphs">)</text></g>
<text transform="translate(83.4,378.95) rotate(-90)" x="0" y="3.9" font-size="11.4" text-anchor="middle" fill="#4d4d4d">1</text>
<text transform="translate(116,378.95) rotate(-90)" x="0" y="3.9" font-size="11.4" text-anchor="middle" fill="#4d4d4d">2</text>
<text transform="translate(145.4,378.95) rotate(-90)" x="0" y="3.9" font-size="11.4" text-anchor="middle" fill="#4d4d4d">3</text>
<text transform="translate(171.8,378.95) rotate(-90)" x="0" y="3.9" font-size="11.4" text-anchor="middle" fill="#4d4d4d">4</text>
<text transform="translate(196,378.95) rotate(-90)" x="0" y="3.9" font-size="11.4" text-anchor="middle" fill="#4d4d4d">5</text>
<text transform="translate(219.7,378.95) rotate(-90)" x="0" y="3.9" font-size="11.4" text-anchor="middle" fill="#4d4d4d">6</text>
<text transform="translate(241.5,378.95) rotate(-90)" x="0" y="3.9" font-size="11.4" text-anchor="middle" fill="#4d4d4d">7</text>
<text transform="translate(262.4,378.95) rotate(-90)" x="0" y="3.9" font-size="11.4" text-anchor="middle" fill="#4d4d4d">8</text>
<text transform="translate(281,378.95) rotate(-90)" x="0" y="3.9" font-size="11.4" text-anchor="middle" fill="#4d4d4d">9</text>
<text transform="translate(299.7,378.95) rotate(-90)" x="0" y="3.9" font-size="11.4" text-anchor="middle" fill="#4d4d4d">10</text>
<text transform="translate(318,378.95) rotate(-90)" x="0" y="3.9" font-size="11.4" text-anchor="middle" fill="#4d4d4d">11</text>
<text transform="translate(336,378.95) rotate(-90)" x="0" y="3.9" font-size="11.4" text-anchor="middle" fill="#4d4d4d">12</text>
<text transform="translate(354,378.95) rotate(-90)" x="0" y="3.9" font-size="11.4" text-anchor="middle" fill="#4d4d4d">13</text>
<text transform="translate(368.4,378.95) rotate(-90)" x="0" y="3.9" font-size="11.4" text-anchor="middle" fill="#4d4d4d">14</text>
<text transform="translate(382.3,378.95) rotate(-90)" x="0" y="3.9" font-size="11.4" text-anchor="middle" fill="#4d4d4d">15</text>
<text transform="translate(392.7,378.95) rotate(-90)" x="0" y="3.9" font-size="11.4" text-anchor="middle" fill="#4d4d4d">16</text>
<text transform="translate(404.4,378.95) rotate(-90)" x="0" y="3.9" font-size="11.4" text-anchor="middle" fill="#4d4d4d">17</text>
<text transform="translate(415.6,378.95) rotate(-90)" x="0" y="3.9" font-size="11.4" text-anchor="middle" fill="#4d4d4d">18</text>
<text transform="translate(423.3,378.95) rotate(-90)" x="0" y="3.9" font-size="11.4" text-anchor="middle" fill="#4d4d4d">19</text>
<text transform="translate(431.7,378.95) rotate(-90)" x="0" y="3.9" font-size="11.4" text-anchor="middle" fill="#4d4d4d">20</text>
<text transform="translate(439.3,378.95) rotate(-90)" x="0" y="3.9" font-size="11.4" text-anchor="middle" fill="#4d4d4d">21</text>
<text transform="translate(448.1,378.95) rotate(-90)" x="0" y="3.9" font-size="11.4" text-anchor="middle" fill="#4d4d4d">22</text>
<text x="523.6" y="340.3" font-size="12" text-anchor="end" fill="#4d4d4d">0</text>
<text x="523.6" y="306.68" font-size="12" text-anchor="end" fill="#4d4d4d">10</text>
<text x="523.6" y="273.06" font-size="12" text-anchor="end" fill="#4d4d4d">20</text>
<text x="523.6" y="239.44" font-size="12" text-anchor="end" fill="#4d4d4d">30</text>
<text x="537.7" y="357.95" font-size="12" text-anchor="middle" fill="#4d4d4d">0</text>
<text x="577.2" y="357.95" font-size="12" text-anchor="middle" fill="#4d4d4d">2</text>
<text x="616.7" y="357.95" font-size="12" text-anchor="middle" fill="#4d4d4d">4</text>
<text x="656.2" y="357.95" font-size="12" text-anchor="middle" fill="#4d4d4d">6</text>
<g transform="translate(499.4,341.1) rotate(-90)"><text x="-0.73" y="0" font-size="14.6" fill="#000" textLength="66.41" lengthAdjust="spacingAndGlyphs">Observed</text><text x="73.57" y="1.4" font-size="14.2" fill="#000" textLength="8.65" lengthAdjust="spacingAndGlyphs">−</text>
<text x="84.68" y="0" font-size="14.2" fill="#000" textLength="20.2" lengthAdjust="spacingAndGlyphs">log</text>
<text x="105.52" y="2.8" font-size="10" fill="#000" textLength="11.38" lengthAdjust="spacingAndGlyphs">10</text>
<text x="117.15" y="0" font-size="18.6" fill="#000" textLength="5.65" lengthAdjust="spacingAndGlyphs">(</text>
<text x="124.54" y="0" font-size="14" font-style="italic" fill="#000" textLength="7.7" lengthAdjust="spacingAndGlyphs">p</text>
<text x="134.5" y="0" font-size="18.6" fill="#000" textLength="5.65" lengthAdjust="spacingAndGlyphs">)</text></g>
<text x="538.73" y="377.65" font-size="14.5" fill="#000" textLength="64.36" lengthAdjust="spacingAndGlyphs">Expected</text>
<text x="610.57" y="379.05" font-size="14.2" fill="#000" textLength="8.65" lengthAdjust="spacingAndGlyphs">−</text>
<text x="621.68" y="377.65" font-size="14.2" fill="#000" textLength="20.2" lengthAdjust="spacingAndGlyphs">log</text>
<text x="642.52" y="380.45" font-size="10" fill="#000" textLength="11.38" lengthAdjust="spacingAndGlyphs">10</text>
<text x="654.15" y="377.65" font-size="18.6" fill="#000" textLength="5.65" lengthAdjust="spacingAndGlyphs">(</text>
<text x="661.54" y="377.65" font-size="14" font-style="italic" fill="#000" textLength="7.7" lengthAdjust="spacingAndGlyphs">p</text>
<text x="671.5" y="377.65" font-size="18.6" fill="#000" textLength="5.65" lengthAdjust="spacingAndGlyphs">)</text>
<line x1="47.3" x2="470.0" y1="564.9" y2="564.9" stroke="#ebebeb" stroke-width="1.1"/>
<line x1="47.3" x2="470.0" y1="543.4" y2="543.4" stroke="#ebebeb" stroke-width="0.6"/>
<line x1="47.3" x2="470.0" y1="521.8" y2="521.8" stroke="#ebebeb" stroke-width="1.1"/>
<line x1="47.3" x2="470.0" y1="500.3" y2="500.3" stroke="#ebebeb" stroke-width="0.6"/>
<line x1="47.3" x2="470.0" y1="478.7" y2="478.7" stroke="#ebebeb" stroke-width="1.1"/>
<line x1="47.3" x2="470.0" y1="457.1" y2="457.1" stroke="#ebebeb" stroke-width="0.6"/>
<line x1="47.3" x2="470.0" y1="435.6" y2="435.6" stroke="#ebebeb" stroke-width="1.1"/>
<line x1="47.3" x2="470.0" y1="413.8" y2="413.8" stroke="#ebebeb" stroke-width="0.6"/>
<line x1="537.7" x2="537.7" y1="401.2" y2="540.9" stroke="#ebebeb" stroke-width="1.1"/>
<line x1="557.45" x2="557.45" y1="401.2" y2="540.9" stroke="#ebebeb" stroke-width="0.6"/>
<line x1="577.2" x2="577.2" y1="401.2" y2="540.9" stroke="#ebebeb" stroke-width="1.1"/>
<line x1="596.95" x2="596.95" y1="401.2" y2="540.9" stroke="#ebebeb" stroke-width="0.6"/>
<line x1="616.7" x2="616.7" y1="401.2" y2="540.9" stroke="#ebebeb" stroke-width="1.1"/>
<line x1="636.45" x2="636.45" y1="401.2" y2="540.9" stroke="#ebebeb" stroke-width="0.6"/>
<line x1="656.2" x2="656.2" y1="401.2" y2="540.9" stroke="#ebebeb" stroke-width="1.1"/>
<line x1="675.95" x2="675.95" y1="401.2" y2="540.9" stroke="#ebebeb" stroke-width="0.6"/>
<line x1="531.0" x2="685.0" y1="534.75" y2="534.75" stroke="#ebebeb" stroke-width="1.1"/>
<line x1="531.0" x2="685.0" y1="517.94" y2="517.94" stroke="#ebebeb" stroke-width="0.6"/>
<line x1="531.0" x2="685.0" y1="501.13" y2="501.13" stroke="#ebebeb" stroke-width="1.1"/>
<line x1="531.0" x2="685.0" y1="484.32" y2="484.32" stroke="#ebebeb" stroke-width="0.6"/>
<line x1="531.0" x2="685.0" y1="467.51" y2="467.51" stroke="#ebebeb" stroke-width="1.1"/>
<line x1="531.0" x2="685.0" y1="450.7" y2="450.7" stroke="#ebebeb" stroke-width="0.6"/>
<line x1="531.0" x2="685.0" y1="433.89" y2="433.89" stroke="#ebebeb" stroke-width="1.1"/>
<line x1="531.0" x2="685.0" y1="417.08" y2="417.08" stroke="#ebebeb" stroke-width="0.6"/>
<path d="M65.1,556.7 L65.1,547.6 L66,547.3 L68,544.7 L70,542.2 L71.5,538.6 L73,537 L75,537 L77,539.6 L79,542.2 L81,543.1 L83,546.6 L83.9,547.6 L83.9,556.7 Z" fill="#707070"/>
<g fill="#707070"><circle cx="66.3" cy="548.6" r="1.65"/><circle cx="67.74" cy="546.84" r="1.65"/><circle cx="68.85" cy="544.81" r="1.65"/><circle cx="69.94" cy="544.21" r="1.65"/><circle cx="71.14" cy="540.95" r="1.65"/><circle cx="72.24" cy="539.14" r="1.65"/><circle cx="73.25" cy="538.57" r="1.65"/><circle cx="74.37" cy="538.63" r="1.65"/><circle cx="75.59" cy="538.99" r="1.65"/><circle cx="76.97" cy="540.93" r="1.65"/><circle cx="78.18" cy="542.19" r="1.65"/><circle cx="79.23" cy="544.2" r="1.65"/><circle cx="80.48" cy="543.94" r="1.65"/><circle cx="81.63" cy="545.68" r="1.65"/><circle cx="66.5" cy="545.62" r="1.65"/><circle cx="77.52" cy="540.3" r="1.65"/><circle cx="79.71" cy="540.73" r="1.65"/><rect x="65" y="545.62" width="3" height="2.52"/><rect x="78.21" y="540.73" width="3" height="3.29"/></g>
<path d="M85.1,556.7 L85.1,534.6 L86,533.6 L88,533.6 L90.7,534.1 L91,541.6 L92.5,541.6 L92.8,538.1 L95,537.9 L97,538.1 L98,539.6 L98,556.7 Z" fill="#707070"/>
<g fill="#707070"><circle cx="86.3" cy="535.59" r="1.65"/><circle cx="87.65" cy="535.43" r="1.65"/><circle cx="89.23" cy="535" r="1.65"/><circle cx="90.26" cy="535.19" r="1.65"/><circle cx="91.35" cy="542.67" r="1.65"/><circle cx="92.64" cy="541.74" r="1.65"/><circle cx="93.89" cy="539.52" r="1.65"/><circle cx="94.89" cy="539.12" r="1.65"/><circle cx="96.66" cy="539.08" r="1.65"/><circle cx="87.72" cy="533.03" r="1.65"/><circle cx="94.57" cy="537.18" r="1.65"/></g>
<path d="M98,556.7 L98,546.3 L100,545.6 L101,543.6 L102.8,539.6 L104.5,540.6 L105.5,540.2 L107,542.1 L110,542.1 L113,542.8 L115,543.6 L117,545.1 L118.6,541.3 L120,544.6 L123,544.6 L125,541.6 L125.9,537.9 L127,539.6 L128,537.6 L130.2,540.6 L130.2,556.7 Z" fill="#333333"/>
<g fill="#333333"><circle cx="99.2" cy="547.87" r="1.65"/><circle cx="100.28" cy="546.99" r="1.65"/><circle cx="101.6" cy="543.97" r="1.65"/><circle cx="102.8" cy="541.51" r="1.65"/><circle cx="103.82" cy="541.78" r="1.65"/><circle cx="105" cy="541.79" r="1.65"/><circle cx="106.3" cy="542.87" r="1.65"/><circle cx="107.95" cy="543.46" r="1.65"/><circle cx="109.46" cy="543.45" r="1.65"/><circle cx="110.68" cy="544.16" r="1.65"/><circle cx="111.94" cy="543.65" r="1.65"/><circle cx="113.21" cy="544.62" r="1.65"/><circle cx="114.38" cy="545.09" r="1.65"/><circle cx="115.81" cy="545.89" r="1.65"/><circle cx="116.95" cy="546.17" r="1.65"/><circle cx="118.07" cy="543.91" r="1.65"/><circle cx="119.41" cy="544.23" r="1.65"/><circle cx="120.82" cy="546" r="1.65"/><circle cx="122.07" cy="546.14" r="1.65"/><circle cx="123.83" cy="544.55" r="1.65"/><circle cx="125.54" cy="540.71" r="1.65"/><circle cx="127.14" cy="540.42" r="1.65"/><circle cx="128.93" cy="540.3" r="1.65"/><circle cx="104.89" cy="540.31" r="1.65"/><circle cx="123.93" cy="542.02" r="1.65"/><circle cx="127.57" cy="538.47" r="1.65"/><rect x="122.43" y="542.02" width="3" height="2.69"/></g>
<path d="M130.2,556.7 L130.2,545.6 L133,546.1 L136,545.6 L140,545.6 L142.5,541.1 L144,544.6 L147,545.6 L150,546.1 L152.8,541.6 L155,544.6 L157.1,545.6 L157.1,556.7 Z" fill="#707070"/>
<g fill="#707070"><circle cx="131.4" cy="547.38" r="1.65"/><circle cx="132.49" cy="547.85" r="1.65"/><circle cx="134.04" cy="547.38" r="1.65"/><circle cx="135.58" cy="547.09" r="1.65"/><circle cx="136.88" cy="546.83" r="1.65"/><circle cx="138.36" cy="547.17" r="1.65"/><circle cx="139.78" cy="546.63" r="1.65"/><circle cx="141.28" cy="544.75" r="1.65"/><circle cx="142.75" cy="543.28" r="1.65"/><circle cx="144.5" cy="545.92" r="1.65"/><circle cx="145.87" cy="547.22" r="1.65"/><circle cx="147.46" cy="546.99" r="1.65"/><circle cx="149.05" cy="547.93" r="1.65"/><circle cx="150.37" cy="547.37" r="1.65"/><circle cx="151.48" cy="545.72" r="1.65"/><circle cx="152.87" cy="542.93" r="1.65"/><circle cx="154.54" cy="545.62" r="1.65"/><circle cx="132.86" cy="545.48" r="1.65"/><circle cx="135.64" cy="542.66" r="1.65"/><circle cx="137.3" cy="544.56" r="1.65"/><circle cx="146.94" cy="544.57" r="1.65"/><circle cx="154.92" cy="543.95" r="1.65"/><rect x="134.14" y="542.66" width="3" height="4.5"/><rect x="135.8" y="544.56" width="3" height="2.54"/><rect x="145.44" y="544.57" width="3" height="2.51"/></g>
<path d="M157.1,556.7 L157.1,538.3 L160,538.1 L160.5,541.6 L163,540.6 L165,541.1 L167,541.6 L168,544.6 L170,545.6 L173,546.1 L176,545.6 L179,546.1 L182.2,546.6 L182.2,556.7 Z" fill="#333333"/>
<g fill="#333333"><circle cx="158.3" cy="539.46" r="1.65"/><circle cx="159.94" cy="539.96" r="1.65"/><circle cx="161.56" cy="542.73" r="1.65"/><circle cx="163.28" cy="542.47" r="1.65"/><circle cx="164.4" cy="542.32" r="1.65"/><circle cx="165.48" cy="542.26" r="1.65"/><circle cx="166.76" cy="543.4" r="1.65"/><circle cx="168.43" cy="545.93" r="1.65"/><circle cx="169.57" cy="546.77" r="1.65"/><circle cx="171.25" cy="547.43" r="1.65"/><circle cx="172.97" cy="547.17" r="1.65"/><circle cx="174.76" cy="547.01" r="1.65"/><circle cx="176.27" cy="547.52" r="1.65"/><circle cx="177.85" cy="547.11" r="1.65"/><circle cx="179.38" cy="547.59" r="1.65"/><circle cx="180.4" cy="547.66" r="1.65"/><circle cx="162.37" cy="540.67" r="1.65"/><circle cx="173.23" cy="546.12" r="1.65"/><circle cx="179.61" cy="546.02" r="1.65"/></g>
<path d="M182.2,556.7 L182.2,545.6 L184,545.1 L186,544.6 L188,545.1 L190,544.1 L192,544.1 L194,543.6 L196,544.1 L198,543.6 L200,544.1 L202,544.6 L204,544.1 L206.9,544.6 L206.9,556.7 Z" fill="#707070"/>
<g fill="#707070"><circle cx="183.4" cy="546.63" r="1.65"/><circle cx="184.65" cy="546.35" r="1.65"/><circle cx="185.77" cy="546.29" r="1.65"/><circle cx="187.11" cy="546.7" r="1.65"/><circle cx="188.43" cy="546.34" r="1.65"/><circle cx="189.84" cy="546.12" r="1.65"/><circle cx="191.11" cy="545.8" r="1.65"/><circle cx="192.3" cy="545.6" r="1.65"/><circle cx="193.53" cy="545.59" r="1.65"/><circle cx="194.76" cy="545.64" r="1.65"/><circle cx="196.3" cy="545.48" r="1.65"/><circle cx="198.05" cy="545" r="1.65"/><circle cx="199.64" cy="545.61" r="1.65"/><circle cx="201" cy="545.41" r="1.65"/><circle cx="202.34" cy="545.8" r="1.65"/><circle cx="203.69" cy="546.13" r="1.65"/><circle cx="204.92" cy="545.95" r="1.65"/><circle cx="185.52" cy="543.46" r="1.65"/><circle cx="190" cy="543.38" r="1.65"/><circle cx="193.63" cy="543.8" r="1.65"/><rect x="184.02" y="543.46" width="3" height="2.76"/></g>
<path d="M206.9,556.7 L206.9,547.1 L209,546.6 L210,544.6 L211.1,540.6 L212.5,544.6 L214,546.6 L216,547.1 L218,541.6 L219.5,538.6 L221.5,536.6 L223.5,538.6 L225,541.1 L227,541.1 L229,541.6 L229,556.7 Z" fill="#333333"/>
<g fill="#333333"><circle cx="208.1" cy="548.48" r="1.65"/><circle cx="209.38" cy="547.75" r="1.65"/><circle cx="211.13" cy="541.72" r="1.65"/><circle cx="212.64" cy="546.26" r="1.65"/><circle cx="213.93" cy="547.97" r="1.65"/><circle cx="215.18" cy="548.57" r="1.65"/><circle cx="216.67" cy="547.23" r="1.65"/><circle cx="218.45" cy="542.69" r="1.65"/><circle cx="219.77" cy="540.16" r="1.65"/><circle cx="221.29" cy="538.52" r="1.65"/><circle cx="223.08" cy="539.25" r="1.65"/><circle cx="224.45" cy="541.59" r="1.65"/><circle cx="225.98" cy="542.32" r="1.65"/><circle cx="227.77" cy="542.5" r="1.65"/><circle cx="213.46" cy="545.83" r="1.65"/><circle cx="216.52" cy="545.33" r="1.65"/><circle cx="218.65" cy="539.64" r="1.65"/><circle cx="221.98" cy="536.58" r="1.65"/><circle cx="225.31" cy="540.14" r="1.65"/></g>
<path d="M229,556.7 L229,541.6 L231,539.1 L233,538.1 L234.5,538.6 L236.2,537.6 L238,539.1 L239.5,545.6 L242,546.6 L243,546.6 L245.5,546.6 L247,545.6 L248,542.1 L249,546.1 L250.5,546.6 L250.5,556.7 Z" fill="#707070"/>
<g fill="#707070"><circle cx="230.2" cy="542" r="1.65"/><circle cx="231.22" cy="540.34" r="1.65"/><circle cx="232.65" cy="539.81" r="1.65"/><circle cx="233.74" cy="540.13" r="1.65"/><circle cx="234.98" cy="539.83" r="1.65"/><circle cx="236.08" cy="539.24" r="1.65"/><circle cx="237.18" cy="539.51" r="1.65"/><circle cx="238.59" cy="542.96" r="1.65"/><circle cx="240.21" cy="547.13" r="1.65"/><circle cx="241.54" cy="547.47" r="1.65"/><circle cx="242.72" cy="548.05" r="1.65"/><circle cx="244.17" cy="548.06" r="1.65"/><circle cx="245.85" cy="547.47" r="1.65"/><circle cx="247.53" cy="544.91" r="1.65"/><circle cx="234.08" cy="537.47" r="1.65"/><circle cx="243.06" cy="546.27" r="1.65"/></g>
<path d="M250.5,556.7 L250.5,546.6 L253,546.6 L256,546.6 L258.5,545.6 L259.8,543.1 L261,545.6 L263,546.6 L265,543.6 L266,541.6 L267.5,542.1 L269,545.6 L269.7,546.6 L269.7,556.7 Z" fill="#333333"/>
<g fill="#333333"><circle cx="251.7" cy="547.63" r="1.65"/><circle cx="252.79" cy="547.9" r="1.65"/><circle cx="254.56" cy="548.24" r="1.65"/><circle cx="256.24" cy="547.55" r="1.65"/><circle cx="257.57" cy="547.05" r="1.65"/><circle cx="258.78" cy="546.17" r="1.65"/><circle cx="260.52" cy="545.92" r="1.65"/><circle cx="261.91" cy="547.71" r="1.65"/><circle cx="263.62" cy="547.62" r="1.65"/><circle cx="265.07" cy="544.96" r="1.65"/><circle cx="266.79" cy="543.26" r="1.65"/><circle cx="268.03" cy="545.08" r="1.65"/><circle cx="259.13" cy="543.59" r="1.65"/></g>
<path d="M269.7,556.7 L269.7,546.6 L271,543.6 L272.5,541.8 L274,541.8 L276,544.6 L278,548.2 L278,556.7 Z" fill="#707070"/>
<g fill="#707070"><circle cx="270.9" cy="545.06" r="1.65"/><circle cx="272.5" cy="543.29" r="1.65"/><circle cx="273.51" cy="543.21" r="1.65"/><circle cx="275.28" cy="544.6" r="1.65"/><circle cx="276.75" cy="547.92" r="1.65"/><circle cx="274.15" cy="542.07" r="1.65"/></g>
<path d="M279.9,556.7 L279.9,548.6 L281,546.6 L283,545.6 L284.5,543.2 L285.5,537.6 L286.5,532.6 L287.6,530 L289,532.6 L289.5,540.6 L289.5,556.7 Z" fill="#707070"/>
<g fill="#707070"><circle cx="281.1" cy="547.87" r="1.65"/><circle cx="282.5" cy="547.37" r="1.65"/><circle cx="284.1" cy="544.89" r="1.65"/><circle cx="285.18" cy="540.67" r="1.65"/><circle cx="286.39" cy="534.94" r="1.65"/><circle cx="287.73" cy="532.11" r="1.65"/><circle cx="281.47" cy="546.23" r="1.65"/><circle cx="283.19" cy="542.3" r="1.65"/><rect x="281.69" y="542.3" width="3" height="4.5"/></g>
<path d="M289.5,556.7 L289.5,546.9 L291,545.6 L293.4,542.1 L295,543.6 L298,545.6 L301,543.6 L303,544.6 L305,544.4 L307,544.6 L307,556.7 Z" fill="#333333"/>
<g fill="#333333"><circle cx="290.7" cy="547.68" r="1.65"/><circle cx="292.33" cy="545.3" r="1.65"/><circle cx="293.38" cy="543.9" r="1.65"/><circle cx="294.41" cy="544.68" r="1.65"/><circle cx="295.86" cy="546.1" r="1.65"/><circle cx="297.37" cy="546.2" r="1.65"/><circle cx="299.11" cy="546.61" r="1.65"/><circle cx="300.58" cy="544.89" r="1.65"/><circle cx="302.17" cy="545.6" r="1.65"/><circle cx="303.71" cy="546.51" r="1.65"/><circle cx="305.44" cy="545.52" r="1.65"/><circle cx="291.38" cy="544.65" r="1.65"/><circle cx="298.72" cy="544.79" r="1.65"/><circle cx="303.98" cy="544.4" r="1.65"/></g>
<path d="M307,556.7 L307,545.6 L308,540.6 L309.4,532.8 L311,540.6 L313,546.6 L315,545.6 L316.4,536.7 L318,545.6 L320,547.6 L322,545.6 L323.4,543.1 L325.4,546.6 L325.4,556.7 Z" fill="#707070"/>
<g fill="#707070"><circle cx="308.2" cy="540.6" r="1.65"/><circle cx="309.29" cy="534.7" r="1.65"/><circle cx="311.06" cy="542.33" r="1.65"/><circle cx="312.8" cy="547.2" r="1.65"/><circle cx="314.13" cy="547.57" r="1.65"/><circle cx="315.8" cy="541.64" r="1.65"/><circle cx="317.5" cy="544.28" r="1.65"/><circle cx="318.52" cy="547.55" r="1.65"/><circle cx="319.82" cy="549.1" r="1.65"/><circle cx="321.57" cy="547.53" r="1.65"/><circle cx="323.12" cy="544.99" r="1.65"/><circle cx="308.21" cy="539.07" r="1.65"/><circle cx="310.13" cy="536.46" r="1.65"/><circle cx="319.49" cy="547.24" r="1.65"/></g>
<path d="M325.4,556.7 L325.4,545 L328,544.6 L331,544.1 L333.4,542.1 L335,543.6 L337,544.6 L339,543.6 L340,535.6 L342,535 L344.6,535.6 L344.6,556.7 Z" fill="#333333"/>
<g fill="#333333"><circle cx="326.6" cy="546.3" r="1.65"/><circle cx="328.38" cy="545.86" r="1.65"/><circle cx="329.94" cy="545.51" r="1.65"/><circle cx="331.15" cy="545.7" r="1.65"/><circle cx="332.61" cy="544.01" r="1.65"/><circle cx="333.66" cy="544.17" r="1.65"/><circle cx="334.96" cy="545.28" r="1.65"/><circle cx="336.31" cy="545.87" r="1.65"/><circle cx="337.76" cy="546.2" r="1.65"/><circle cx="339.49" cy="541.17" r="1.65"/><circle cx="340.88" cy="536.57" r="1.65"/><circle cx="342.48" cy="536.21" r="1.65"/><circle cx="331.34" cy="543.98" r="1.65"/><circle cx="336.1" cy="542.14" r="1.65"/><circle cx="339.51" cy="538.88" r="1.65"/><circle cx="341.25" cy="534.69" r="1.65"/><rect x="334.6" y="542.14" width="3" height="3.51"/></g>
<path d="M344.6,556.7 L344.6,548.4 L346,546.6 L348,543.6 L350,541.2 L352,541.6 L354.3,541.6 L356,543.6 L358,546.6 L360.9,548.4 L360.9,556.7 Z" fill="#707070"/>
<g fill="#707070"><circle cx="345.8" cy="548.06" r="1.65"/><circle cx="347.23" cy="546.37" r="1.65"/><circle cx="348.32" cy="544.98" r="1.65"/><circle cx="349.79" cy="543.35" r="1.65"/><circle cx="351.53" cy="543.2" r="1.65"/><circle cx="352.82" cy="543.55" r="1.65"/><circle cx="354.4" cy="543" r="1.65"/><circle cx="356.08" cy="545.45" r="1.65"/><circle cx="357.29" cy="546.79" r="1.65"/><circle cx="358.31" cy="548.33" r="1.65"/><circle cx="359.51" cy="548.83" r="1.65"/><circle cx="357.57" cy="545.03" r="1.65"/></g>
<path d="M360.9,556.7 L360.9,540.6 L362,539.7 L364,539.6 L366,540.1 L368,540.6 L369,544.6 L371,546.4 L373,545.6 L374.7,546.4 L374.7,556.7 Z" fill="#333333"/>
<g fill="#333333"><circle cx="362.1" cy="541.24" r="1.65"/><circle cx="363.69" cy="541.15" r="1.65"/><circle cx="365.22" cy="541.82" r="1.65"/><circle cx="366.84" cy="541.57" r="1.65"/><circle cx="367.88" cy="542.51" r="1.65"/><circle cx="369.17" cy="546.54" r="1.65"/><circle cx="370.36" cy="547.27" r="1.65"/><circle cx="371.65" cy="547.87" r="1.65"/><circle cx="373.41" cy="547.3" r="1.65"/><circle cx="370.32" cy="545.72" r="1.65"/><circle cx="372" cy="544.68" r="1.65"/><rect x="370.5" y="544.68" width="3" height="2.82"/></g>
<path d="M374.7,556.7 L374.7,544.6 L376,542.6 L378,542.3 L380,542.3 L382,542.3 L384,541.6 L386.5,542.3 L386.5,556.7 Z" fill="#707070"/>
<g fill="#707070"><circle cx="375.9" cy="544.32" r="1.65"/><circle cx="377" cy="544.44" r="1.65"/><circle cx="378.24" cy="544.17" r="1.65"/><circle cx="379.29" cy="543.97" r="1.65"/><circle cx="380.35" cy="543.33" r="1.65"/><circle cx="381.8" cy="544.28" r="1.65"/><circle cx="383.35" cy="543.68" r="1.65"/><circle cx="384.98" cy="543.4" r="1.65"/></g>
<path d="M386.5,556.7 L386.5,541.6 L388,540.7 L390,540.7 L392,541.1 L393,545.6 L395,545.8 L398.1,545.8 L398.1,556.7 Z" fill="#333333"/>
<g fill="#333333"><circle cx="387.7" cy="542.3" r="1.65"/><circle cx="389.09" cy="541.78" r="1.65"/><circle cx="390.48" cy="542.35" r="1.65"/><circle cx="392.26" cy="543.81" r="1.65"/><circle cx="393.36" cy="546.94" r="1.65"/><circle cx="394.63" cy="547.47" r="1.65"/><circle cx="396.38" cy="547.78" r="1.65"/><circle cx="389.35" cy="539.74" r="1.65"/><circle cx="395.91" cy="545.91" r="1.65"/></g>
<path d="M398.1,556.7 L398.1,542.7 L399,542.7 L401,545.6 L403,545.6 L405.7,536.6 L407,545.6 L409.8,545.7 L409.8,556.7 Z" fill="#707070"/>
<g fill="#707070"><circle cx="399.3" cy="544.75" r="1.65"/><circle cx="400.79" cy="547.23" r="1.65"/><circle cx="401.86" cy="547.12" r="1.65"/><circle cx="403.63" cy="544.54" r="1.65"/><circle cx="404.72" cy="541.75" r="1.65"/><circle cx="406.48" cy="543.04" r="1.65"/><circle cx="407.51" cy="547.45" r="1.65"/><circle cx="400.14" cy="544.48" r="1.65"/><circle cx="403.53" cy="543.17" r="1.65"/></g>
<path d="M409.8,556.7 L409.8,546.8 L412,546.6 L414,546.6 L416.5,544.2 L419.5,546.6 L419.5,556.7 Z" fill="#333333"/>
<g fill="#333333"><circle cx="411" cy="548.67" r="1.65"/><circle cx="412.67" cy="548.01" r="1.65"/><circle cx="413.94" cy="547.95" r="1.65"/><circle cx="414.95" cy="547.46" r="1.65"/><circle cx="416.16" cy="546.11" r="1.65"/><circle cx="417.58" cy="546.4" r="1.65"/></g>
<path d="M419.5,556.7 L419.5,544.6 L421,543.7 L424,543.7 L426,544.1 L427.7,544.6 L427.7,556.7 Z" fill="#707070"/>
<g fill="#707070"><circle cx="420.7" cy="545.66" r="1.65"/><circle cx="421.97" cy="544.94" r="1.65"/><circle cx="423.49" cy="544.96" r="1.65"/><circle cx="424.91" cy="545.14" r="1.65"/></g>
<path d="M427.7,556.7 L427.7,545.7 L430,545.6 L433,545.7 L436.9,544.6 L438.4,545.6 L438.4,556.7 Z" fill="#333333"/>
<g fill="#333333"><circle cx="428.9" cy="547.32" r="1.65"/><circle cx="430.53" cy="547.16" r="1.65"/><circle cx="431.6" cy="547.42" r="1.65"/><circle cx="432.79" cy="546.91" r="1.65"/><circle cx="434.12" cy="547.37" r="1.65"/><circle cx="435.42" cy="546.37" r="1.65"/><circle cx="437.15" cy="546.76" r="1.65"/><circle cx="428.97" cy="545.09" r="1.65"/></g>
<path d="M438.4,556.7 L438.4,549.3 L441,547.6 L443,545.6 L445,543.7 L445,556.7 Z" fill="#707070"/>
<g fill="#707070"><circle cx="439.6" cy="550.11" r="1.65"/><circle cx="441.19" cy="548.88" r="1.65"/><circle cx="442.85" cy="546.77" r="1.65"/></g>
<path d="M445,556.7 L445,540.6 L447,540.6 L449,540.6 L450.7,539.1 L452.2,540.6 L452.2,556.7 Z" fill="#333333"/>
<g fill="#333333"><circle cx="446.2" cy="541.74" r="1.65"/><circle cx="447.36" cy="542.48" r="1.65"/><circle cx="449.13" cy="542.41" r="1.65"/><circle cx="450.41" cy="541.29" r="1.65"/><circle cx="447.43" cy="538.69" r="1.65"/><rect x="445.93" y="538.69" width="3" height="3.41"/></g>
<rect x="71.2" y="470" width="4" height="11.3" rx="2" fill="#707070"/>
<rect x="71.2" y="483" width="4" height="8.3" rx="2" fill="#707070"/>
<rect x="71.2" y="493" width="4" height="62.9" rx="2" fill="#707070"/>
<rect x="101" y="534" width="3.6" height="21.9" rx="1.8" fill="#333333"/>
<rect x="127.2" y="527" width="3.6" height="28.9" rx="1.8" fill="#333333"/>
<rect x="136.9" y="535.4" width="3" height="20.5" rx="1.5" fill="#707070"/>
<rect x="151.3" y="537.7" width="3" height="18.2" rx="1.5" fill="#707070"/>
<rect x="157.4" y="537" width="3" height="18.9" rx="1.5" fill="#333333"/>
<rect x="168.7" y="522.5" width="3.2" height="33.4" rx="1.6" fill="#333333"/>
<rect x="170.4" y="498.2" width="3.2" height="11.1" rx="1.6" fill="#333333"/>
<rect x="170.4" y="515.5" width="3.2" height="40.4" rx="1.6" fill="#333333"/>
<rect x="170.2" y="533" width="3" height="22.9" rx="1.5" fill="#333333"/>
<rect x="176.1" y="532" width="3" height="23.9" rx="1.5" fill="#333333"/>
<rect x="192.8" y="532.2" width="3.4" height="23.7" rx="1.7" fill="#707070"/>
<ellipse cx="194.5" cy="534" rx="2.3" ry="2.9" fill="#707070"/>
<rect x="197.5" y="533" width="3.4" height="22.9" rx="1.7" fill="#707070"/>
<rect x="189.6" y="535" width="3.2" height="20.9" rx="1.6" fill="#707070"/>
<rect x="203" y="529" width="3.6" height="26.9" rx="1.8" fill="#707070"/>
<rect x="209.4" y="521" width="3.4" height="3.5" rx="1.7" fill="#333333"/>
<rect x="209.4" y="529.5" width="3.4" height="26.4" rx="1.7" fill="#333333"/>
<rect x="219.6" y="529" width="3.8" height="26.9" rx="1.9" fill="#333333"/>
<rect x="234.7" y="532.3" width="3" height="23.6" rx="1.5" fill="#707070"/>
<rect x="242.7" y="533.8" width="3.4" height="22.1" rx="1.7" fill="#707070"/>
<rect x="249.9" y="516.9" width="3.4" height="39" rx="1.7" fill="#707070"/>
<rect x="250.6" y="530" width="4" height="25.9" rx="2" fill="#333333"/>
<rect x="285.9" y="528.4" width="3.4" height="27.5" rx="1.7" fill="#707070"/>
<rect x="307.9" y="532.2" width="3" height="23.7" rx="1.5" fill="#707070"/>
<rect x="314.9" y="536.1" width="3" height="19.8" rx="1.5" fill="#707070"/>
<rect x="338.5" y="482.4" width="3.6" height="14.8" rx="1.8" fill="#333333"/>
<rect x="338.5" y="500.3" width="3.6" height="13.3" rx="1.8" fill="#333333"/>
<rect x="338.5" y="516.2" width="3.6" height="2.4" rx="1.8" fill="#333333"/>
<rect x="338.5" y="520.2" width="3.6" height="35.7" rx="1.8" fill="#333333"/>
<rect x="352.8" y="531" width="3" height="24.9" rx="1.5" fill="#707070"/>
<rect x="383.5" y="528.9" width="3" height="27" rx="1.5" fill="#707070"/>
<rect x="404.2" y="535.9" width="3" height="20" rx="1.5" fill="#707070"/>
<g fill="#707070" stroke="#555" stroke-width="0.45"><circle cx="73.2" cy="472" r="2.05"/><circle cx="73.2" cy="473.9" r="2.05"/><circle cx="73.2" cy="475.8" r="2.05"/><circle cx="73.2" cy="477.7" r="2.05"/><circle cx="73.2" cy="479.6" r="2.05"/></g>
<g fill="#707070" stroke="#555" stroke-width="0.45"><circle cx="73.2" cy="484" r="2.05"/><circle cx="73.2" cy="485.9" r="2.05"/><circle cx="73.2" cy="487.8" r="2.05"/><circle cx="73.2" cy="489.7" r="2.05"/></g>
<g fill="#707070" stroke="#555" stroke-width="0.45"><circle cx="73.2" cy="494" r="2.05"/><circle cx="73.2" cy="495.9" r="2.05"/><circle cx="73.2" cy="497.8" r="2.05"/><circle cx="73.2" cy="499.7" r="2.05"/><circle cx="73.2" cy="501.6" r="2.05"/><circle cx="73.2" cy="503.5" r="2.05"/><circle cx="73.2" cy="505.4" r="2.05"/><circle cx="73.2" cy="507.3" r="2.05"/><circle cx="73.2" cy="509.2" r="2.05"/><circle cx="73.2" cy="511.1" r="2.05"/><circle cx="73.2" cy="513" r="2.05"/><circle cx="73.2" cy="514.9" r="2.05"/><circle cx="73.2" cy="516.8" r="2.05"/><circle cx="73.2" cy="518.7" r="2.05"/><circle cx="73.2" cy="520.6" r="2.05"/><circle cx="73.2" cy="522.5" r="2.05"/><circle cx="73.2" cy="524.4" r="2.05"/><circle cx="73.2" cy="526.3" r="2.05"/><circle cx="73.2" cy="528.2" r="2.05"/><circle cx="73.2" cy="530.1" r="2.05"/><circle cx="73.2" cy="532" r="2.05"/><circle cx="73.2" cy="533.9" r="2.05"/></g>
<g fill="#333333" stroke="#222" stroke-width="0.45"><circle cx="340.3" cy="484" r="1.9"/><circle cx="340.3" cy="485.9" r="1.9"/><circle cx="340.3" cy="487.8" r="1.9"/><circle cx="340.3" cy="489.7" r="1.9"/><circle cx="340.3" cy="491.6" r="1.9"/><circle cx="340.3" cy="493.5" r="1.9"/><circle cx="340.3" cy="495.4" r="1.9"/></g>
<g fill="#333333" stroke="#222" stroke-width="0.45"><circle cx="340.3" cy="502.5" r="1.9"/><circle cx="340.3" cy="504.4" r="1.9"/><circle cx="340.3" cy="506.3" r="1.9"/><circle cx="340.3" cy="508.2" r="1.9"/><circle cx="340.3" cy="510.1" r="1.9"/><circle cx="340.3" cy="512" r="1.9"/></g>
<g fill="#333333" stroke="#222" stroke-width="0.45"><circle cx="340.3" cy="521.5" r="1.9"/><circle cx="340.3" cy="523.4" r="1.9"/><circle cx="340.3" cy="525.3" r="1.9"/><circle cx="340.3" cy="527.2" r="1.9"/><circle cx="340.3" cy="529.1" r="1.9"/><circle cx="340.3" cy="531" r="1.9"/><circle cx="340.3" cy="532.9" r="1.9"/></g>
<rect x="109.8" y="534.2" width="3.2" height="3.5" fill="#333333"/>
<circle cx="81.6" cy="542" r="1.55" fill="#8c8c8c" stroke="#444" stroke-width="0.7"/>
<circle cx="158.9" cy="512.2" r="1.55" fill="#8c8c8c" stroke="#444" stroke-width="0.7"/>
<circle cx="163.5" cy="538.3" r="1.55" fill="#8c8c8c" stroke="#444" stroke-width="0.7"/>
<circle cx="172" cy="492" r="1.55" fill="#8c8c8c" stroke="#444" stroke-width="0.7"/>
<circle cx="186.1" cy="539.7" r="1.55" fill="#8c8c8c" stroke="#444" stroke-width="0.7"/>
<circle cx="105.2" cy="539.6" r="1.55" fill="#8c8c8c" stroke="#444" stroke-width="0.7"/>
<circle cx="111.4" cy="540" r="1.55" fill="#8c8c8c" stroke="#444" stroke-width="0.7"/>
<circle cx="251.6" cy="512.8" r="1.55" fill="#8c8c8c" stroke="#444" stroke-width="0.7"/>
<circle cx="194.5" cy="518.8" r="1.55" fill="#8c8c8c" stroke="#444" stroke-width="0.7"/>
<circle cx="194.5" cy="521.3" r="1.55" fill="#8c8c8c" stroke="#444" stroke-width="0.7"/>
<circle cx="194.5" cy="523.8" r="1.55" fill="#8c8c8c" stroke="#444" stroke-width="0.7"/>
<circle cx="224.5" cy="528.5" r="1.7" fill="#333333"/>
<circle cx="224.5" cy="530.5" r="1.7" fill="#333333"/>
<circle cx="287.4" cy="423.6" r="1.55" fill="#8c8c8c" stroke="#444" stroke-width="0.7"/>
<circle cx="287.4" cy="498.4" r="1.55" fill="#8c8c8c" stroke="#444" stroke-width="0.7"/>
<circle cx="287.6" cy="515.5" r="1.55" fill="#8c8c8c" stroke="#444" stroke-width="0.7"/>
<circle cx="287.6" cy="517.5" r="1.55" fill="#8c8c8c" stroke="#444" stroke-width="0.7"/>
<circle cx="301" cy="539.7" r="1.55" fill="#8c8c8c" stroke="#444" stroke-width="0.7"/>
<circle cx="327.3" cy="539.3" r="1.55" fill="#8c8c8c" stroke="#444" stroke-width="0.7"/>
<circle cx="340.3" cy="465" r="1.55" fill="#8c8c8c" stroke="#444" stroke-width="0.7"/>
<circle cx="340.3" cy="517.4" r="1.7" fill="#333333"/>
<circle cx="326.8" cy="538.9" r="1.55" fill="#8c8c8c" stroke="#444" stroke-width="0.7"/>
<circle cx="358.4" cy="543.7" r="1.55" fill="#8c8c8c" stroke="#444" stroke-width="0.7"/>
<circle cx="372.9" cy="536" r="1.7" fill="#333333"/>
<circle cx="372.9" cy="538.3" r="1.7" fill="#333333"/>
<circle cx="427.5" cy="538.5" r="1.55" fill="#8c8c8c" stroke="#444" stroke-width="0.7"/>
<circle cx="447.1" cy="540" r="1.55" fill="#8c8c8c" stroke="#444" stroke-width="0.7"/>
<path d="M73.2,466.1 L75.7,468.6 L73.2,471.1 L70.7,468.6 Z" fill="#8a8a8a" stroke="#2c2c2c" stroke-width="1.05"/>
<path d="M71.1,524.7 L73.6,527.2 L71.1,529.7 L68.6,527.2 Z" fill="#8a8a8a" stroke="#2c2c2c" stroke-width="1.05"/>
<path d="M102.6,529.9 L105.1,532.4 L102.6,534.9 L100.1,532.4 Z" fill="#8a8a8a" stroke="#2c2c2c" stroke-width="1.05"/>
<path d="M111.4,521.8 L113.9,524.3 L111.4,526.8 L108.9,524.3 Z" fill="#8a8a8a" stroke="#2c2c2c" stroke-width="1.05"/>
<path d="M128.9,523.5 L131.4,526 L128.9,528.5 L126.4,526 Z" fill="#8a8a8a" stroke="#2c2c2c" stroke-width="1.05"/>
<path d="M138.4,522.9 L140.9,525.4 L138.4,527.9 L135.9,525.4 Z" fill="#8a8a8a" stroke="#2c2c2c" stroke-width="1.05"/>
<path d="M158.9,524.1 L161.4,526.6 L158.9,529.1 L156.4,526.6 Z" fill="#8a8a8a" stroke="#2c2c2c" stroke-width="1.05"/>
<path d="M170.2,514.6 L172.7,517.1 L170.2,519.6 L167.7,517.1 Z" fill="#8a8a8a" stroke="#2c2c2c" stroke-width="1.05"/>
<path d="M172,469.8 L174.5,472.3 L172,474.8 L169.5,472.3 Z" fill="#8a8a8a" stroke="#2c2c2c" stroke-width="1.05"/>
<path d="M177.6,529.4 L180.1,531.9 L177.6,534.4 L175.1,531.9 Z" fill="#8a8a8a" stroke="#2c2c2c" stroke-width="1.05"/>
<path d="M194.5,512.8 L197,515.3 L194.5,517.8 L192,515.3 Z" fill="#8a8a8a" stroke="#2c2c2c" stroke-width="1.05"/>
<path d="M199.2,530.1 L201.7,532.6 L199.2,535.1 L196.7,532.6 Z" fill="#8a8a8a" stroke="#2c2c2c" stroke-width="1.05"/>
<path d="M204.8,525.5 L207.3,528 L204.8,530.5 L202.3,528 Z" fill="#8a8a8a" stroke="#2c2c2c" stroke-width="1.05"/>
<path d="M211.1,514.4 L213.6,516.9 L211.1,519.4 L208.6,516.9 Z" fill="#8a8a8a" stroke="#2c2c2c" stroke-width="1.05"/>
<path d="M211.1,528.8 L213.6,531.3 L211.1,533.8 L208.6,531.3 Z" fill="#8a8a8a" stroke="#2c2c2c" stroke-width="1.05"/>
<path d="M221.6,516.6 L224.1,519.1 L221.6,521.6 L219.1,519.1 Z" fill="#8a8a8a" stroke="#2c2c2c" stroke-width="1.05"/>
<path d="M224.5,515.6 L227,518.1 L224.5,520.6 L222,518.1 Z" fill="#8a8a8a" stroke="#2c2c2c" stroke-width="1.05"/>
<path d="M221.1,524.5 L223.6,527 L221.1,529.5 L218.6,527 Z" fill="#8a8a8a" stroke="#2c2c2c" stroke-width="1.05"/>
<path d="M251.7,506.8 L254.2,509.3 L251.7,511.8 L249.2,509.3 Z" fill="#8a8a8a" stroke="#2c2c2c" stroke-width="1.05"/>
<path d="M253.5,525.3 L256,527.8 L253.5,530.3 L251,527.8 Z" fill="#8a8a8a" stroke="#2c2c2c" stroke-width="1.05"/>
<path d="M271,524 L273.5,526.5 L271,529 L268.5,526.5 Z" fill="#8a8a8a" stroke="#2c2c2c" stroke-width="1.05"/>
<path d="M287.4,411.5 L289.9,414 L287.4,416.5 L284.9,414 Z" fill="#8a8a8a" stroke="#2c2c2c" stroke-width="1.05"/>
<path d="M287.6,508 L290.1,510.5 L287.6,513 L285.1,510.5 Z" fill="#8a8a8a" stroke="#2c2c2c" stroke-width="1.05"/>
<path d="M289.1,521 L291.6,523.5 L289.1,526 L286.6,523.5 Z" fill="#8a8a8a" stroke="#2c2c2c" stroke-width="1.05"/>
<path d="M285.7,529.1 L288.2,531.6 L285.7,534.1 L283.2,531.6 Z" fill="#8a8a8a" stroke="#2c2c2c" stroke-width="1.05"/>
<path d="M306.8,526.5 L309.3,529 L306.8,531.5 L304.3,529 Z" fill="#8a8a8a" stroke="#2c2c2c" stroke-width="1.05"/>
<path d="M340.3,470 L342.8,472.5 L340.3,475 L337.8,472.5 Z" fill="#8a8a8a" stroke="#2c2c2c" stroke-width="1.05"/>
<path d="M340.3,499.1 L342.8,501.6 L340.3,504.1 L337.8,501.6 Z" fill="#8a8a8a" stroke="#2c2c2c" stroke-width="1.05"/>
<path d="M354.3,527.9 L356.8,530.4 L354.3,532.9 L351.8,530.4 Z" fill="#8a8a8a" stroke="#2c2c2c" stroke-width="1.05"/>
<path d="M385,526.4 L387.5,528.9 L385,531.4 L382.5,528.9 Z" fill="#8a8a8a" stroke="#2c2c2c" stroke-width="1.05"/>
<line x1="47" x2="470.0" y1="533.6" y2="533.6" stroke="#666" stroke-width="1.3" stroke-dasharray="5.9 6.14"/>
<line x1="47" x2="470.0" y1="555.45" y2="555.45" stroke="#484848" stroke-width="1.3"/>
<line x1="531.0" y1="535.89" x2="685.0" y2="509.68" stroke="#8a8a8a" stroke-width="1.45"/>
<path d="M576.9,527.1 L588.4,523.7 L600,518.4 L609.2,513.3 L616.1,508.2 L620.7,501.8 L624.2,496 L625.3,490.3 L627.6,486.8 L630.4,478.7 L631.1,476 L636.8,473 L641.4,471.4 L643.7,468.4 L648.4,462.6 L655.3,459.9 L662.2,459.2" fill="none" stroke="#000" stroke-width="3.9" stroke-linecap="round" stroke-linejoin="round"/>
<circle cx="663.8" cy="457.5" r="1.75" fill="#000"/>
<circle cx="668.5" cy="424.8" r="1.75" fill="#000"/>
<circle cx="677.9" cy="417.4" r="1.75" fill="#000"/>
<text x="33.71" y="411.3" font-size="16" font-weight="bold" fill="#000" textLength="80.31" lengthAdjust="spacingAndGlyphs">C) METAL</text>
<text x="40" y="570.15" font-size="12" text-anchor="end" fill="#4d4d4d">0</text>
<text x="40" y="527.05" font-size="12" text-anchor="end" fill="#4d4d4d">10</text>
<text x="40" y="483.95" font-size="12" text-anchor="end" fill="#4d4d4d">20</text>
<text x="40" y="440.85" font-size="12" text-anchor="end" fill="#4d4d4d">30</text>
<g transform="translate(14.7,513.45) rotate(-90)"><text x="-0.43" y="1.4" font-size="14.2" fill="#000" textLength="8.65" lengthAdjust="spacingAndGlyphs">−</text>
<text x="10.68" y="0" font-size="14.2" fill="#000" textLength="20.2" lengthAdjust="spacingAndGlyphs">log</text>
<text x="31.52" y="2.8" font-size="10" fill="#000" textLength="11.38" lengthAdjust="spacingAndGlyphs">10</text>
<text x="43.15" y="0" font-size="18.6" fill="#000" textLength="5.65" lengthAdjust="spacingAndGlyphs">(</text>
<text x="50.54" y="0" font-size="14" font-style="italic" fill="#000" textLength="7.7" lengthAdjust="spacingAndGlyphs">p</text>
<text x="60.5" y="0" font-size="18.6" fill="#000" textLength="5.65" lengthAdjust="spacingAndGlyphs">)</text></g>
<text transform="translate(83.4,578.3) rotate(-90)" x="0" y="3.9" font-size="11.4" text-anchor="middle" fill="#4d4d4d">1</text>
<text transform="translate(116,578.3) rotate(-90)" x="0" y="3.9" font-size="11.4" text-anchor="middle" fill="#4d4d4d">2</text>
<text transform="translate(145.4,578.3) rotate(-90)" x="0" y="3.9" font-size="11.4" text-anchor="middle" fill="#4d4d4d">3</text>
<text transform="translate(171.8,578.3) rotate(-90)" x="0" y="3.9" font-size="11.4" text-anchor="middle" fill="#4d4d4d">4</text>
<text transform="translate(196,578.3) rotate(-90)" x="0" y="3.9" font-size="11.4" text-anchor="middle" fill="#4d4d4d">5</text>
<text transform="translate(219.7,578.3) rotate(-90)" x="0" y="3.9" font-size="11.4" text-anchor="middle" fill="#4d4d4d">6</text>
<text transform="translate(241.5,578.3) rotate(-90)" x="0" y="3.9" font-size="11.4" text-anchor="middle" fill="#4d4d4d">7</text>
<text transform="translate(262.4,578.3) rotate(-90)" x="0" y="3.9" font-size="11.4" text-anchor="middle" fill="#4d4d4d">8</text>
<text transform="translate(281,578.3) rotate(-90)" x="0" y="3.9" font-size="11.4" text-anchor="middle" fill="#4d4d4d">9</text>
<text transform="translate(299.7,578.3) rotate(-90)" x="0" y="3.9" font-size="11.4" text-anchor="middle" fill="#4d4d4d">10</text>
<text transform="translate(318,578.3) rotate(-90)" x="0" y="3.9" font-size="11.4" text-anchor="middle" fill="#4d4d4d">11</text>
<text transform="translate(336,578.3) rotate(-90)" x="0" y="3.9" font-size="11.4" text-anchor="middle" fill="#4d4d4d">12</text>
<text transform="translate(354,578.3) rotate(-90)" x="0" y="3.9" font-size="11.4" text-anchor="middle" fill="#4d4d4d">13</text>
<text transform="translate(368.4,578.3) rotate(-90)" x="0" y="3.9" font-size="11.4" text-anchor="middle" fill="#4d4d4d">14</text>
<text transform="translate(382.3,578.3) rotate(-90)" x="0" y="3.9" font-size="11.4" text-anchor="middle" fill="#4d4d4d">15</text>
<text transform="translate(392.7,578.3) rotate(-90)" x="0" y="3.9" font-size="11.4" text-anchor="middle" fill="#4d4d4d">16</text>
<text transform="translate(404.4,578.3) rotate(-90)" x="0" y="3.9" font-size="11.4" text-anchor="middle" fill="#4d4d4d">17</text>
<text transform="translate(415.6,578.3) rotate(-90)" x="0" y="3.9" font-size="11.4" text-anchor="middle" fill="#4d4d4d">18</text>
<text transform="translate(423.3,578.3) rotate(-90)" x="0" y="3.9" font-size="11.4" text-anchor="middle" fill="#4d4d4d">19</text>
<text transform="translate(431.7,578.3) rotate(-90)" x="0" y="3.9" font-size="11.4" text-anchor="middle" fill="#4d4d4d">20</text>
<text transform="translate(439.3,578.3) rotate(-90)" x="0" y="3.9" font-size="11.4" text-anchor="middle" fill="#4d4d4d">21</text>
<text transform="translate(448.1,578.3) rotate(-90)" x="0" y="3.9" font-size="11.4" text-anchor="middle" fill="#4d4d4d">22</text>
<text x="523.6" y="539.65" font-size="12" text-anchor="end" fill="#4d4d4d">0</text>
<text x="523.6" y="506.03" font-size="12" text-anchor="end" fill="#4d4d4d">10</text>
<text x="523.6" y="472.41" font-size="12" text-anchor="end" fill="#4d4d4d">20</text>
<text x="523.6" y="438.79" font-size="12" text-anchor="end" fill="#4d4d4d">30</text>
<text x="537.7" y="557.3" font-size="12" text-anchor="middle" fill="#4d4d4d">0</text>
<text x="577.2" y="557.3" font-size="12" text-anchor="middle" fill="#4d4d4d">2</text>
<text x="616.7" y="557.3" font-size="12" text-anchor="middle" fill="#4d4d4d">4</text>
<text x="656.2" y="557.3" font-size="12" text-anchor="middle" fill="#4d4d4d">6</text>
<g transform="translate(499.4,540.45) rotate(-90)"><text x="-0.73" y="0" font-size="14.6" fill="#000" textLength="66.41" lengthAdjust="spacingAndGlyphs">Observed</text><text x="73.57" y="1.4" font-size="14.2" fill="#000" textLength="8.65" lengthAdjust="spacingAndGlyphs">−</text>
<text x="84.68" y="0" font-size="14.2" fill="#000" textLength="20.2" lengthAdjust="spacingAndGlyphs">log</text>
<text x="105.52" y="2.8" font-size="10" fill="#000" textLength="11.38" lengthAdjust="spacingAndGlyphs">10</text>
<text x="117.15" y="0" font-size="18.6" fill="#000" textLength="5.65" lengthAdjust="spacingAndGlyphs">(</text>
<text x="124.54" y="0" font-size="14" font-style="italic" fill="#000" textLength="7.7" lengthAdjust="spacingAndGlyphs">p</text>
<text x="134.5" y="0" font-size="18.6" fill="#000" textLength="5.65" lengthAdjust="spacingAndGlyphs">)</text></g>
<text x="538.73" y="577" font-size="14.5" fill="#000" textLength="64.36" lengthAdjust="spacingAndGlyphs">Expected</text>
<text x="610.57" y="578.4" font-size="14.2" fill="#000" textLength="8.65" lengthAdjust="spacingAndGlyphs">−</text>
<text x="621.68" y="577" font-size="14.2" fill="#000" textLength="20.2" lengthAdjust="spacingAndGlyphs">log</text>
<text x="642.52" y="579.8" font-size="10" fill="#000" textLength="11.38" lengthAdjust="spacingAndGlyphs">10</text>
<text x="654.15" y="577" font-size="18.6" fill="#000" textLength="5.65" lengthAdjust="spacingAndGlyphs">(</text>
<text x="661.54" y="577" font-size="14" font-style="italic" fill="#000" textLength="7.7" lengthAdjust="spacingAndGlyphs">p</text>
<text x="671.5" y="577" font-size="18.6" fill="#000" textLength="5.65" lengthAdjust="spacingAndGlyphs">)</text>
</svg></body></html>
